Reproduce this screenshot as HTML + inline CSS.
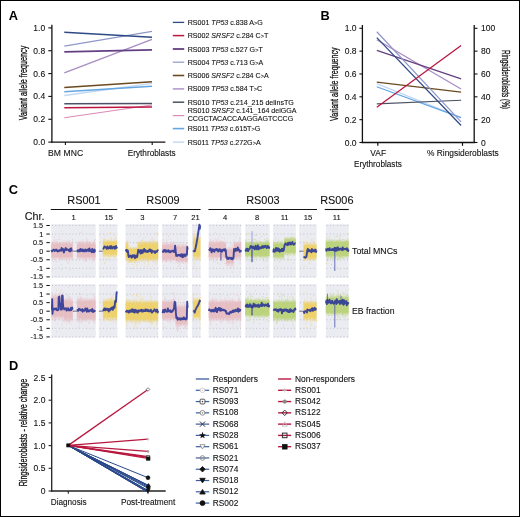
<!DOCTYPE html>
<html><head><meta charset="utf-8"><style>
html,body{margin:0;padding:0;background:#fff;}
svg{display:block;will-change:transform;}
text{font-family:"Liberation Sans",sans-serif;}
</style></head><body>
<svg width="520" height="517" viewBox="0 0 520 517" font-family="Liberation Sans, sans-serif">
<defs><linearGradient id="gpk" x1="0" y1="0" x2="0" y2="1"><stop offset="0" stop-color="#e7b9bd" stop-opacity="0"/><stop offset="0.09" stop-color="#e7b9bd" stop-opacity="0.3"/><stop offset="0.185" stop-color="#e7b9bd" stop-opacity="0.8"/><stop offset="0.815" stop-color="#e7b9bd" stop-opacity="0.8"/><stop offset="0.91" stop-color="#e7b9bd" stop-opacity="0.3"/><stop offset="1" stop-color="#e7b9bd" stop-opacity="0"/></linearGradient><linearGradient id="gyl" x1="0" y1="0" x2="0" y2="1"><stop offset="0" stop-color="#efcf5a" stop-opacity="0"/><stop offset="0.09" stop-color="#efcf5a" stop-opacity="0.3"/><stop offset="0.185" stop-color="#efcf5a" stop-opacity="0.8"/><stop offset="0.815" stop-color="#efcf5a" stop-opacity="0.8"/><stop offset="0.91" stop-color="#efcf5a" stop-opacity="0.3"/><stop offset="1" stop-color="#efcf5a" stop-opacity="0"/></linearGradient><linearGradient id="ggr" x1="0" y1="0" x2="0" y2="1"><stop offset="0" stop-color="#b7d06c" stop-opacity="0"/><stop offset="0.09" stop-color="#b7d06c" stop-opacity="0.3"/><stop offset="0.185" stop-color="#b7d06c" stop-opacity="0.8"/><stop offset="0.815" stop-color="#b7d06c" stop-opacity="0.8"/><stop offset="0.91" stop-color="#b7d06c" stop-opacity="0.3"/><stop offset="1" stop-color="#b7d06c" stop-opacity="0"/></linearGradient></defs>
<rect x="0" y="0" width="520" height="517" fill="#fff"/>
<text x="8.8" y="19.9" font-size="12.8" font-weight="bold" fill="#000">A</text>
<line x1="51.90" y1="24.80" x2="51.90" y2="142.70" stroke="#111" stroke-width="1.3"/>
<line x1="51.30" y1="142.10" x2="165.40" y2="142.10" stroke="#111" stroke-width="1.3"/>
<line x1="48.30" y1="142.10" x2="51.90" y2="142.10" stroke="#111" stroke-width="1.1"/>
<text x="45.2" y="145.1" font-size="8.5" text-anchor="end" fill="#111" stroke="#111" stroke-width="0.1">0.0</text>
<line x1="48.30" y1="119.26" x2="51.90" y2="119.26" stroke="#111" stroke-width="1.1"/>
<text x="45.2" y="122.25999999999999" font-size="8.5" text-anchor="end" fill="#111" stroke="#111" stroke-width="0.1">0.2</text>
<line x1="48.30" y1="96.42" x2="51.90" y2="96.42" stroke="#111" stroke-width="1.1"/>
<text x="45.2" y="99.41999999999999" font-size="8.5" text-anchor="end" fill="#111" stroke="#111" stroke-width="0.1">0.4</text>
<line x1="48.30" y1="73.58" x2="51.90" y2="73.58" stroke="#111" stroke-width="1.1"/>
<text x="45.2" y="76.57999999999998" font-size="8.5" text-anchor="end" fill="#111" stroke="#111" stroke-width="0.1">0.6</text>
<line x1="48.30" y1="50.74" x2="51.90" y2="50.74" stroke="#111" stroke-width="1.1"/>
<text x="45.2" y="53.739999999999995" font-size="8.5" text-anchor="end" fill="#111" stroke="#111" stroke-width="0.1">0.8</text>
<line x1="48.30" y1="27.90" x2="51.90" y2="27.90" stroke="#111" stroke-width="1.1"/>
<text x="45.2" y="30.900000000000006" font-size="8.5" text-anchor="end" fill="#111" stroke="#111" stroke-width="0.1">1.0</text>
<line x1="65.40" y1="142.10" x2="65.40" y2="144.90" stroke="#111" stroke-width="1.1"/>
<line x1="152.20" y1="142.10" x2="152.20" y2="144.90" stroke="#111" stroke-width="1.1"/>
<text x="65.6" y="155.9" font-size="8.6" text-anchor="middle" fill="#111" stroke="#111" stroke-width="0.1" textLength="35.2">BM MNC</text>
<text x="151.7" y="155.9" font-size="8.2" text-anchor="middle" fill="#111" stroke="#111" stroke-width="0.1">Erythroblasts</text>
<text transform="translate(27.2,83) rotate(-90)" font-size="10.4" text-anchor="middle" textLength="74.6" lengthAdjust="spacingAndGlyphs" fill="#111" stroke="#111" stroke-width="0.3">Variant allele frequency</text>
<line x1="64.30" y1="95.51" x2="152.00" y2="83.29" stroke="#c2d8f2" stroke-width="1.3"/>
<line x1="64.30" y1="117.78" x2="152.00" y2="104.98" stroke="#dc8ab5" stroke-width="1.2"/>
<line x1="64.30" y1="46.17" x2="152.00" y2="31.33" stroke="#9097c9" stroke-width="1.2"/>
<line x1="64.30" y1="72.78" x2="152.00" y2="39.32" stroke="#a88cc3" stroke-width="1.3"/>
<line x1="64.30" y1="91.74" x2="152.00" y2="86.37" stroke="#64a6e2" stroke-width="1.5"/>
<line x1="64.30" y1="87.40" x2="152.00" y2="81.80" stroke="#6b4a1f" stroke-width="1.5"/>
<line x1="64.30" y1="103.73" x2="152.00" y2="103.39" stroke="#4b5264" stroke-width="1.5"/>
<line x1="64.30" y1="107.84" x2="152.00" y2="106.93" stroke="#bb1540" stroke-width="1.5"/>
<line x1="64.30" y1="51.88" x2="152.00" y2="49.94" stroke="#643f82" stroke-width="1.7"/>
<line x1="64.30" y1="32.24" x2="152.00" y2="37.26" stroke="#2e4a85" stroke-width="1.3"/>
<line x1="172.80" y1="22.40" x2="184.20" y2="22.40" stroke="#2e4a85" stroke-width="1.3"/>
<text x="187.7" y="24.90" font-size="7.1" fill="#111" stroke="#111" stroke-width="0.1" xml:space="preserve"><tspan>RS001 </tspan><tspan font-style="italic">TP53</tspan><tspan> c.838 A<tspan font-size="5.6">&gt;</tspan>G</tspan></text>
<line x1="172.80" y1="35.60" x2="184.20" y2="35.60" stroke="#bb1540" stroke-width="1.5"/>
<text x="187.7" y="38.10" font-size="7.1" fill="#111" stroke="#111" stroke-width="0.1" xml:space="preserve"><tspan>RS002 </tspan><tspan font-style="italic">SRSF2</tspan><tspan> c.284 C<tspan font-size="5.6">&gt;</tspan>T</tspan></text>
<line x1="172.80" y1="49.00" x2="184.20" y2="49.00" stroke="#643f82" stroke-width="1.8"/>
<text x="187.7" y="51.50" font-size="7.1" fill="#111" stroke="#111" stroke-width="0.1" xml:space="preserve"><tspan>RS003 </tspan><tspan font-style="italic">TP53</tspan><tspan> c.527 G<tspan font-size="5.6">&gt;</tspan>T</tspan></text>
<line x1="172.80" y1="62.20" x2="184.20" y2="62.20" stroke="#9097c9" stroke-width="1.2"/>
<text x="187.7" y="64.70" font-size="7.1" fill="#111" stroke="#111" stroke-width="0.1" xml:space="preserve"><tspan>RS004 </tspan><tspan font-style="italic">TP53</tspan><tspan> c.713 G<tspan font-size="5.6">&gt;</tspan>A</tspan></text>
<line x1="172.80" y1="75.50" x2="184.20" y2="75.50" stroke="#6b4a1f" stroke-width="1.6"/>
<text x="187.7" y="78.00" font-size="7.1" fill="#111" stroke="#111" stroke-width="0.1" xml:space="preserve"><tspan>RS006 </tspan><tspan font-style="italic">SRSF2</tspan><tspan> c.284 C<tspan font-size="5.6">&gt;</tspan>A</tspan></text>
<line x1="172.80" y1="88.90" x2="184.20" y2="88.90" stroke="#b49bcb" stroke-width="1.6"/>
<text x="187.7" y="91.40" font-size="7.1" fill="#111" stroke="#111" stroke-width="0.1" xml:space="preserve"><tspan>RS009 </tspan><tspan font-style="italic">TP53</tspan><tspan> c.584 T<tspan font-size="5.6">&gt;</tspan>C</tspan></text>
<line x1="172.80" y1="102.20" x2="184.20" y2="102.20" stroke="#4b5264" stroke-width="1.5"/>
<text x="187.7" y="104.70" font-size="7.1" fill="#111" stroke="#111" stroke-width="0.1" xml:space="preserve"><tspan>RS010 </tspan><tspan font-style="italic">TP53</tspan><tspan> c.214_215 delinsTG</tspan></text>
<line x1="172.80" y1="115.60" x2="184.20" y2="115.60" stroke="#dc8ab5" stroke-width="1.2"/>
<line x1="172.80" y1="128.60" x2="184.20" y2="128.60" stroke="#64a6e2" stroke-width="1.6"/>
<text x="187.7" y="131.10" font-size="7.1" fill="#111" stroke="#111" stroke-width="0.1" xml:space="preserve"><tspan>RS011 </tspan><tspan font-style="italic">TP53</tspan><tspan> c.615T<tspan font-size="5.6">&gt;</tspan>G</tspan></text>
<line x1="172.80" y1="142.10" x2="184.20" y2="142.10" stroke="#c2d8f2" stroke-width="1.4"/>
<text x="187.7" y="144.60" font-size="7.1" fill="#111" stroke="#111" stroke-width="0.1" xml:space="preserve"><tspan>RS011 </tspan><tspan font-style="italic">TP53</tspan><tspan> c.272G<tspan font-size="5.6">&gt;</tspan>A</tspan></text>
<text x="187.7" y="113.0" font-size="7.1" fill="#111" stroke="#111" stroke-width="0.1" xml:space="preserve"><tspan>RS010 </tspan><tspan font-style="italic">SRSF2</tspan><tspan> c.141_164 delGGA</tspan></text>
<text x="187.7" y="121.3" font-size="7.1" fill="#111" stroke="#111" stroke-width="0.1">CCGCTACACCAAGGAGTCCCG</text>
<text x="320.4" y="19.9" font-size="12.8" font-weight="bold" fill="#000">B</text>
<line x1="362.40" y1="25.00" x2="362.40" y2="143.10" stroke="#111" stroke-width="1.3"/>
<line x1="474.20" y1="25.00" x2="474.20" y2="143.10" stroke="#111" stroke-width="1.3"/>
<line x1="361.80" y1="142.50" x2="474.80" y2="142.50" stroke="#111" stroke-width="1.3"/>
<line x1="359.40" y1="142.50" x2="362.40" y2="142.50" stroke="#111" stroke-width="1.1"/>
<text x="356.6" y="145.5" font-size="8.5" text-anchor="end" fill="#111" stroke="#111" stroke-width="0.1">0.0</text>
<line x1="474.20" y1="142.50" x2="477.50" y2="142.50" stroke="#111" stroke-width="1.1"/>
<text x="481.0" y="145.5" font-size="8.5" fill="#111" stroke="#111" stroke-width="0.1">0</text>
<line x1="359.40" y1="119.66" x2="362.40" y2="119.66" stroke="#111" stroke-width="1.1"/>
<text x="356.6" y="122.66" font-size="8.5" text-anchor="end" fill="#111" stroke="#111" stroke-width="0.1">0.2</text>
<line x1="474.20" y1="119.66" x2="477.50" y2="119.66" stroke="#111" stroke-width="1.1"/>
<text x="481.0" y="122.66" font-size="8.5" fill="#111" stroke="#111" stroke-width="0.1">20</text>
<line x1="359.40" y1="96.82" x2="362.40" y2="96.82" stroke="#111" stroke-width="1.1"/>
<text x="356.6" y="99.82" font-size="8.5" text-anchor="end" fill="#111" stroke="#111" stroke-width="0.1">0.4</text>
<line x1="474.20" y1="96.82" x2="477.50" y2="96.82" stroke="#111" stroke-width="1.1"/>
<text x="481.0" y="99.82" font-size="8.5" fill="#111" stroke="#111" stroke-width="0.1">40</text>
<line x1="359.40" y1="73.98" x2="362.40" y2="73.98" stroke="#111" stroke-width="1.1"/>
<text x="356.6" y="76.97999999999999" font-size="8.5" text-anchor="end" fill="#111" stroke="#111" stroke-width="0.1">0.6</text>
<line x1="474.20" y1="73.98" x2="477.50" y2="73.98" stroke="#111" stroke-width="1.1"/>
<text x="481.0" y="76.97999999999999" font-size="8.5" fill="#111" stroke="#111" stroke-width="0.1">60</text>
<line x1="359.40" y1="51.14" x2="362.40" y2="51.14" stroke="#111" stroke-width="1.1"/>
<text x="356.6" y="54.139999999999986" font-size="8.5" text-anchor="end" fill="#111" stroke="#111" stroke-width="0.1">0.8</text>
<line x1="474.20" y1="51.14" x2="477.50" y2="51.14" stroke="#111" stroke-width="1.1"/>
<text x="481.0" y="54.139999999999986" font-size="8.5" fill="#111" stroke="#111" stroke-width="0.1">80</text>
<line x1="359.40" y1="28.30" x2="362.40" y2="28.30" stroke="#111" stroke-width="1.1"/>
<text x="356.6" y="31.299999999999997" font-size="8.5" text-anchor="end" fill="#111" stroke="#111" stroke-width="0.1">1.0</text>
<line x1="474.20" y1="28.30" x2="477.50" y2="28.30" stroke="#111" stroke-width="1.1"/>
<text x="481.0" y="31.299999999999997" font-size="8.5" fill="#111" stroke="#111" stroke-width="0.1">100</text>
<line x1="377.80" y1="142.50" x2="377.80" y2="145.80" stroke="#111" stroke-width="1.2"/>
<line x1="462.50" y1="142.50" x2="462.50" y2="145.80" stroke="#111" stroke-width="1.2"/>
<text x="378.2" y="156.0" font-size="8.4" text-anchor="middle" fill="#111" stroke="#111" stroke-width="0.1">VAF</text>
<text x="377.9" y="167.0" font-size="8.2" text-anchor="middle" fill="#111" stroke="#111" stroke-width="0.1">Erythroblasts</text>
<text x="462.8" y="156.0" font-size="8.4" text-anchor="middle" fill="#111" stroke="#111" stroke-width="0.1">% Ringsideroblasts</text>
<text transform="translate(337.9,84.2) rotate(-90)" font-size="10.4" text-anchor="middle" textLength="73.4" lengthAdjust="spacingAndGlyphs" fill="#111" stroke="#111" stroke-width="0.3">Variant allele frequency</text>
<text transform="translate(502.0,79.5) rotate(90)" font-size="10.3" text-anchor="middle" textLength="58.9" lengthAdjust="spacingAndGlyphs" fill="#111" stroke="#111" stroke-width="0.3">Ringsideroblasts (%)</text>
<line x1="376.80" y1="83.69" x2="461.10" y2="117.60" stroke="#c2d8f2" stroke-width="1.25"/>
<line x1="376.80" y1="86.77" x2="461.10" y2="117.60" stroke="#64a6e2" stroke-width="1.25"/>
<line x1="376.80" y1="82.20" x2="461.10" y2="92.14" stroke="#6b4a1f" stroke-width="1.25"/>
<line x1="376.80" y1="103.79" x2="461.10" y2="100.25" stroke="#4b5264" stroke-width="1.25"/>
<line x1="376.80" y1="39.72" x2="461.10" y2="89.05" stroke="#a88cc3" stroke-width="1.25"/>
<line x1="376.80" y1="50.34" x2="461.10" y2="78.89" stroke="#643f82" stroke-width="1.25"/>
<line x1="376.80" y1="31.73" x2="461.10" y2="121.94" stroke="#9097c9" stroke-width="1.2"/>
<line x1="376.80" y1="37.66" x2="461.10" y2="125.48" stroke="#2e4a85" stroke-width="1.25"/>
<line x1="376.80" y1="107.33" x2="461.10" y2="45.43" stroke="#bb1540" stroke-width="1.25"/>
<text x="8.8" y="194.3" font-size="12.8" font-weight="bold" fill="#000">C</text>
<text x="44.5" y="219.6" font-size="10.8" text-anchor="end" fill="#111" stroke="#111" stroke-width="0.1">Chr.</text>
<text x="84.0" y="203.8" font-size="10.9" text-anchor="middle" fill="#111" stroke="#111" stroke-width="0.1">RS001</text>
<line x1="50.80" y1="209.50" x2="117.30" y2="209.50" stroke="#111" stroke-width="1.1"/>
<text x="163.0" y="203.8" font-size="10.9" text-anchor="middle" fill="#111" stroke="#111" stroke-width="0.1">RS009</text>
<line x1="125.60" y1="209.50" x2="200.60" y2="209.50" stroke="#111" stroke-width="1.1"/>
<text x="262.9" y="203.8" font-size="10.9" text-anchor="middle" fill="#111" stroke="#111" stroke-width="0.1">RS003</text>
<line x1="208.40" y1="209.50" x2="317.00" y2="209.50" stroke="#111" stroke-width="1.1"/>
<text x="336.8" y="203.8" font-size="10.9" text-anchor="middle" fill="#111" stroke="#111" stroke-width="0.1">RS006</text>
<line x1="324.80" y1="209.50" x2="348.80" y2="209.50" stroke="#111" stroke-width="1.1"/>
<line x1="46.40" y1="225.49" x2="49.80" y2="225.49" stroke="#111" stroke-width="1.0"/>
<text x="43.2" y="227.98999999999998" font-size="7.3" text-anchor="end" fill="#111" stroke="#111" stroke-width="0.1">1.5</text>
<line x1="46.40" y1="234.06" x2="49.80" y2="234.06" stroke="#111" stroke-width="1.0"/>
<text x="43.2" y="236.55999999999997" font-size="7.3" text-anchor="end" fill="#111" stroke="#111" stroke-width="0.1">1</text>
<line x1="46.40" y1="242.63" x2="49.80" y2="242.63" stroke="#111" stroke-width="1.0"/>
<text x="43.2" y="245.13" font-size="7.3" text-anchor="end" fill="#111" stroke="#111" stroke-width="0.1">0.5</text>
<line x1="46.40" y1="251.20" x2="49.80" y2="251.20" stroke="#111" stroke-width="1.0"/>
<text x="43.2" y="253.7" font-size="7.3" text-anchor="end" fill="#111" stroke="#111" stroke-width="0.1">0</text>
<line x1="46.40" y1="259.77" x2="49.80" y2="259.77" stroke="#111" stroke-width="1.0"/>
<text x="43.2" y="262.27" font-size="7.3" text-anchor="end" fill="#111" stroke="#111" stroke-width="0.1">-0.5</text>
<line x1="46.40" y1="268.34" x2="49.80" y2="268.34" stroke="#111" stroke-width="1.0"/>
<text x="43.2" y="270.84" font-size="7.3" text-anchor="end" fill="#111" stroke="#111" stroke-width="0.1">-1</text>
<line x1="46.40" y1="276.91" x2="49.80" y2="276.91" stroke="#111" stroke-width="1.0"/>
<text x="43.2" y="279.40999999999997" font-size="7.3" text-anchor="end" fill="#111" stroke="#111" stroke-width="0.1">-1.5</text>
<line x1="46.40" y1="285.49" x2="49.80" y2="285.49" stroke="#111" stroke-width="1.0"/>
<text x="43.2" y="287.99" font-size="7.3" text-anchor="end" fill="#111" stroke="#111" stroke-width="0.1">1.5</text>
<line x1="46.40" y1="294.06" x2="49.80" y2="294.06" stroke="#111" stroke-width="1.0"/>
<text x="43.2" y="296.56" font-size="7.3" text-anchor="end" fill="#111" stroke="#111" stroke-width="0.1">1</text>
<line x1="46.40" y1="302.63" x2="49.80" y2="302.63" stroke="#111" stroke-width="1.0"/>
<text x="43.2" y="305.13" font-size="7.3" text-anchor="end" fill="#111" stroke="#111" stroke-width="0.1">0.5</text>
<line x1="46.40" y1="311.20" x2="49.80" y2="311.20" stroke="#111" stroke-width="1.0"/>
<text x="43.2" y="313.7" font-size="7.3" text-anchor="end" fill="#111" stroke="#111" stroke-width="0.1">0</text>
<line x1="46.40" y1="319.77" x2="49.80" y2="319.77" stroke="#111" stroke-width="1.0"/>
<text x="43.2" y="322.27" font-size="7.3" text-anchor="end" fill="#111" stroke="#111" stroke-width="0.1">-0.5</text>
<line x1="46.40" y1="328.34" x2="49.80" y2="328.34" stroke="#111" stroke-width="1.0"/>
<text x="43.2" y="330.84000000000003" font-size="7.3" text-anchor="end" fill="#111" stroke="#111" stroke-width="0.1">-1</text>
<line x1="46.40" y1="336.91" x2="49.80" y2="336.91" stroke="#111" stroke-width="1.0"/>
<text x="43.2" y="339.41" font-size="7.3" text-anchor="end" fill="#111" stroke="#111" stroke-width="0.1">-1.5</text>
<text x="352" y="253.6" font-size="8.8" fill="#111" stroke="#111" stroke-width="0.1">Total MNCs</text>
<text x="352" y="314.0" font-size="8.7" fill="#111" stroke="#111" stroke-width="0.1">EB fraction</text>
<text x="73.5" y="219.5" font-size="7.6" text-anchor="middle" fill="#111" stroke="#111" stroke-width="0.1">1</text>
<rect x="51.20" y="224.19" width="44.60" height="53.42" fill="#ebebf2"/>
<line x1="52.00" y1="225.49" x2="95.80" y2="225.49" stroke="#aeaeb8" stroke-width="0.75" stroke-dasharray="0.9 2.5"/>
<line x1="52.00" y1="234.06" x2="95.80" y2="234.06" stroke="#aeaeb8" stroke-width="0.75" stroke-dasharray="0.9 2.5"/>
<line x1="52.00" y1="242.63" x2="95.80" y2="242.63" stroke="#aeaeb8" stroke-width="0.75" stroke-dasharray="0.9 2.5"/>
<line x1="52.00" y1="251.20" x2="95.80" y2="251.20" stroke="#aeaeb8" stroke-width="0.75" stroke-dasharray="0.9 2.5"/>
<line x1="52.00" y1="259.77" x2="95.80" y2="259.77" stroke="#aeaeb8" stroke-width="0.75" stroke-dasharray="0.9 2.5"/>
<line x1="52.00" y1="268.34" x2="95.80" y2="268.34" stroke="#aeaeb8" stroke-width="0.75" stroke-dasharray="0.9 2.5"/>
<line x1="52.00" y1="276.91" x2="95.80" y2="276.91" stroke="#aeaeb8" stroke-width="0.75" stroke-dasharray="0.9 2.5"/>
<rect x="51.20" y="240.80" width="21.70" height="19.44" fill="url(#gpk)"/>
<path d="M51.5 244.3V257.6M52.3 241.5V257.7M52.9 241.5V257.3M53.4 244.0V256.4M54.0 239.7V258.7M54.5 244.4V260.4M55.4 242.2V257.4M56.3 239.0V257.8M56.9 244.1V257.2M57.5 244.3V257.8M58.2 243.1V258.3M59.0 244.1V256.4M59.6 243.7V259.0M60.2 242.1V257.7M60.8 243.7V260.7M61.4 241.6V257.7M62.2 244.8V258.6M63.1 242.6V258.2M63.9 242.9V259.0M64.5 242.4V260.7M65.2 243.1V257.9M66.0 241.6V258.3M66.6 240.9V262.5M67.3 244.5V256.9M68.1 239.0V264.1M68.9 244.4V259.0M69.7 241.5V256.4M70.3 244.3V256.7M71.1 243.4V257.7M71.7 244.2V256.9M72.4 238.7V258.0" stroke="#e7b9bd" stroke-width="0.55" stroke-opacity="0.45" fill="none"/>
<path d="M59.0 243.2h.7v.7h-.7zM64.0 242.3h.7v.7h-.7zM56.9 243.0h.7v.7h-.7zM63.5 240.0h.7v.7h-.7zM68.1 241.4h.7v.7h-.7zM59.7 259.6h.7v.7h-.7zM59.9 242.4h.7v.7h-.7zM59.1 236.0h.7v.7h-.7zM53.9 237.3h.7v.7h-.7zM61.3 269.0h.7v.7h-.7zM51.8 270.2h.7v.7h-.7zM68.0 262.8h.7v.7h-.7zM56.0 242.7h.7v.7h-.7zM69.7 269.8h.7v.7h-.7zM56.1 261.3h.7v.7h-.7zM72.0 239.5h.7v.7h-.7zM60.9 230.8h.7v.7h-.7zM71.9 258.8h.7v.7h-.7zM55.6 261.5h.7v.7h-.7zM69.4 261.4h.7v.7h-.7zM61.6 257.9h.7v.7h-.7zM53.0 261.1h.7v.7h-.7zM65.5 239.9h.7v.7h-.7zM58.4 239.1h.7v.7h-.7zM54.5 239.7h.7v.7h-.7zM54.4 257.9h.7v.7h-.7zM69.1 240.1h.7v.7h-.7zM65.3 267.0h.7v.7h-.7zM56.8 241.0h.7v.7h-.7zM60.3 239.8h.7v.7h-.7zM58.9 238.9h.7v.7h-.7zM61.1 264.0h.7v.7h-.7zM60.3 258.3h.7v.7h-.7zM71.1 259.4h.7v.7h-.7zM66.9 243.3h.7v.7h-.7zM63.3 242.8h.7v.7h-.7z" fill="#e7b9bd" opacity="0.9"/>
<rect x="76.90" y="240.80" width="18.70" height="19.44" fill="url(#gpk)"/>
<path d="M77.2 244.8V257.4M77.9 245.1V258.5M78.7 241.0V256.1M79.5 242.1V257.7M80.3 241.2V256.0M81.1 241.3V257.1M81.8 240.4V257.7M82.6 242.8V256.8M83.3 239.3V258.1M83.9 242.6V258.3M84.4 245.0V257.2M85.2 243.7V262.7M85.7 244.1V260.6M86.3 238.8V261.6M86.9 242.0V256.9M87.6 239.0V256.3M88.1 241.6V257.5M88.8 244.2V258.6M89.6 241.0V256.4M90.2 242.2V256.2M91.0 243.9V256.0M91.9 243.1V264.3M92.4 245.0V256.8M93.2 244.9V257.6M93.9 240.0V259.1M94.5 240.8V261.8M95.2 244.7V257.2" stroke="#e7b9bd" stroke-width="0.55" stroke-opacity="0.45" fill="none"/>
<path d="M80.2 242.3h.7v.7h-.7zM94.4 240.1h.7v.7h-.7zM85.0 242.3h.7v.7h-.7zM81.8 231.8h.7v.7h-.7zM86.8 241.0h.7v.7h-.7zM93.3 260.1h.7v.7h-.7zM84.2 260.1h.7v.7h-.7zM79.7 232.0h.7v.7h-.7zM93.6 258.7h.7v.7h-.7zM92.1 258.9h.7v.7h-.7zM79.5 258.9h.7v.7h-.7zM93.6 259.0h.7v.7h-.7zM89.6 257.8h.7v.7h-.7zM86.0 237.6h.7v.7h-.7zM86.3 260.8h.7v.7h-.7zM95.1 239.2h.7v.7h-.7z" fill="#e7b9bd" opacity="0.9"/>
<line x1="72.90" y1="251.20" x2="76.90" y2="251.20" stroke="#6a6a78" stroke-width="0.9"/>
<path d="M51.50 250.03 L51.96 251.47 L52.42 250.42 L52.88 250.48 L53.33 249.75 L53.79 249.61 L54.25 250.23 L54.71 251.00 L55.17 250.34 L55.63 250.27 L56.09 249.52 L56.55 249.94 L57.00 250.90 L57.46 251.50 L57.92 250.58 L58.38 250.93 L58.84 251.28 L59.30 250.34 L59.76 250.70 L60.22 250.14 L60.67 249.75 L61.13 250.64 L61.59 248.06 L62.05 250.56 L62.51 249.22 L62.97 250.15 L63.43 249.22 L63.88 252.51 L64.34 250.98 L64.80 250.05 L65.26 249.72 L65.72 248.08 L66.18 249.99 L66.64 249.09 L67.10 249.58 L67.55 249.41 L68.01 249.82 L68.47 250.46 L68.93 249.83 L69.39 251.33 L69.85 249.21 L70.31 251.28 L70.77 250.09 L71.22 248.33 L71.68 250.55 L72.14 250.32 L72.60 250.34 M77.20 249.59 L77.66 250.66 L78.11 251.45 L78.56 250.44 L79.02 250.14 L79.48 250.02 L79.93 251.41 L80.39 249.03 L80.84 249.11 L81.30 250.67 L81.75 250.43 L82.20 251.09 L82.66 249.35 L83.12 251.35 L83.57 250.05 L84.03 251.14 L84.48 251.34 L84.94 250.01 L85.39 249.43 L85.84 250.70 L86.30 251.32 L86.76 249.92 L87.21 250.73 L87.67 250.39 L88.12 249.25 L88.58 249.62 L89.03 251.18 L89.48 248.53 L89.94 250.68 L90.40 249.94 L90.85 251.30 L91.31 250.73 L91.76 252.34 L92.22 249.00 L92.67 249.40 L93.12 251.83 L93.58 252.10 L94.04 252.21 L94.49 249.58 L94.95 251.12 L95.40 250.69" fill="none" stroke="#2c3796" stroke-width="1.9" stroke-linejoin="round" opacity="0.9"/>
<rect x="51.20" y="284.19" width="44.60" height="53.42" fill="#ebebf2"/>
<line x1="52.00" y1="285.49" x2="95.80" y2="285.49" stroke="#aeaeb8" stroke-width="0.75" stroke-dasharray="0.9 2.5"/>
<line x1="52.00" y1="294.06" x2="95.80" y2="294.06" stroke="#aeaeb8" stroke-width="0.75" stroke-dasharray="0.9 2.5"/>
<line x1="52.00" y1="302.63" x2="95.80" y2="302.63" stroke="#aeaeb8" stroke-width="0.75" stroke-dasharray="0.9 2.5"/>
<line x1="52.00" y1="311.20" x2="95.80" y2="311.20" stroke="#aeaeb8" stroke-width="0.75" stroke-dasharray="0.9 2.5"/>
<line x1="52.00" y1="319.77" x2="95.80" y2="319.77" stroke="#aeaeb8" stroke-width="0.75" stroke-dasharray="0.9 2.5"/>
<line x1="52.00" y1="328.34" x2="95.80" y2="328.34" stroke="#aeaeb8" stroke-width="0.75" stroke-dasharray="0.9 2.5"/>
<line x1="52.00" y1="336.91" x2="95.80" y2="336.91" stroke="#aeaeb8" stroke-width="0.75" stroke-dasharray="0.9 2.5"/>
<rect x="51.20" y="293.03" width="12.80" height="27.77" fill="url(#gpk)"/>
<path d="M51.5 298.9V316.1M52.3 291.8V317.0M53.1 298.9V316.1M53.9 295.6V318.4M54.6 297.0V321.9M55.4 298.8V321.4M56.1 294.9V316.3M56.6 297.5V317.3M57.5 295.9V314.7M58.4 294.1V314.7M58.9 298.5V316.5M59.6 296.3V316.5M60.2 290.4V318.7M61.0 295.1V317.1M61.7 296.2V317.6M62.2 297.1V326.6M62.7 292.7V314.8M63.6 298.4V318.2" stroke="#e7b9bd" stroke-width="0.55" stroke-opacity="0.45" fill="none"/>
<path d="M56.3 331.0h.7v.7h-.7zM62.7 320.4h.7v.7h-.7zM56.2 289.7h.7v.7h-.7zM60.4 329.2h.7v.7h-.7zM58.3 318.2h.7v.7h-.7zM63.5 320.0h.7v.7h-.7zM57.3 323.7h.7v.7h-.7zM55.1 294.9h.7v.7h-.7zM63.0 291.7h.7v.7h-.7zM60.7 289.5h.7v.7h-.7zM55.0 295.4h.7v.7h-.7zM54.1 320.1h.7v.7h-.7zM62.7 294.5h.7v.7h-.7zM64.0 318.1h.7v.7h-.7z" fill="#e7b9bd" opacity="0.9"/>
<rect x="64.00" y="297.10" width="8.90" height="25.45" fill="url(#gpk)"/>
<path d="M64.3 300.4V323.4M64.8 300.0V319.0M65.5 299.2V318.2M66.0 300.5V317.6M66.8 298.9V324.7M67.4 295.1V321.8M68.3 296.6V318.1M68.9 302.2V323.5M69.5 295.9V322.8M70.0 295.9V323.5M70.8 298.6V318.0M71.4 302.5V319.8M72.2 301.2V320.0" stroke="#e7b9bd" stroke-width="0.55" stroke-opacity="0.45" fill="none"/>
<path d="M66.8 294.9h.7v.7h-.7zM66.5 294.0h.7v.7h-.7zM68.2 287.3h.7v.7h-.7zM66.2 319.8h.7v.7h-.7zM71.3 324.4h.7v.7h-.7zM68.9 321.9h.7v.7h-.7zM71.9 286.4h.7v.7h-.7zM66.1 319.8h.7v.7h-.7zM67.7 320.1h.7v.7h-.7zM70.7 319.5h.7v.7h-.7z" fill="#e7b9bd" opacity="0.9"/>
<rect x="76.90" y="297.10" width="18.70" height="25.45" fill="url(#gpk)"/>
<path d="M77.2 297.7V317.1M77.8 300.5V322.7M78.7 298.9V319.8M79.5 297.7V324.8M80.0 302.2V319.0M80.6 297.2V317.8M81.5 296.8V323.0M82.2 302.3V324.2M83.0 298.3V320.4M83.8 301.9V320.9M84.3 301.8V320.0M85.1 301.1V319.2M85.6 299.8V322.6M86.2 301.7V319.5M87.0 301.3V317.4M87.5 298.5V320.2M88.3 300.6V318.3M89.1 299.8V318.8M89.7 299.2V318.0M90.4 300.0V320.3M91.2 298.7V317.0M91.8 302.4V319.7M92.3 299.1V319.5M93.2 295.5V321.8M93.8 302.4V317.5M94.6 296.9V324.1M95.1 299.8V319.7" stroke="#e7b9bd" stroke-width="0.55" stroke-opacity="0.45" fill="none"/>
<path d="M94.2 298.6h.7v.7h-.7zM78.9 326.8h.7v.7h-.7zM80.6 294.0h.7v.7h-.7zM95.1 293.7h.7v.7h-.7zM85.9 289.5h.7v.7h-.7zM93.8 322.6h.7v.7h-.7zM79.9 321.9h.7v.7h-.7zM92.7 300.4h.7v.7h-.7zM91.1 292.4h.7v.7h-.7zM88.1 322.4h.7v.7h-.7zM91.5 293.9h.7v.7h-.7zM78.9 300.2h.7v.7h-.7zM86.4 296.9h.7v.7h-.7zM77.9 320.9h.7v.7h-.7zM86.3 326.5h.7v.7h-.7zM79.4 293.8h.7v.7h-.7zM92.9 294.5h.7v.7h-.7zM80.5 298.9h.7v.7h-.7zM94.3 295.5h.7v.7h-.7zM79.9 297.1h.7v.7h-.7zM79.6 292.7h.7v.7h-.7zM79.9 296.7h.7v.7h-.7zM88.8 322.0h.7v.7h-.7zM87.3 295.1h.7v.7h-.7zM88.7 323.1h.7v.7h-.7zM81.9 299.4h.7v.7h-.7zM77.8 295.9h.7v.7h-.7zM95.3 296.4h.7v.7h-.7zM85.0 299.3h.7v.7h-.7z" fill="#e7b9bd" opacity="0.9"/>
<line x1="72.90" y1="311.20" x2="76.90" y2="311.20" stroke="#6a6a78" stroke-width="0.9"/>
<path d="M51.30 309.49 L51.90 309.49 L52.20 299.20 L52.50 313.77 L52.90 309.60 L53.36 309.65 L53.82 308.60 L54.27 309.47 L54.73 308.79 L55.19 308.94 L55.65 309.29 L56.11 308.25 L56.57 310.03 L57.02 309.82 L57.48 310.25 L57.94 310.24 L58.40 309.49 L58.70 297.15 L59.30 296.63 L59.80 303.49 L60.30 303.49 L60.60 309.49 L61.20 309.49 L61.80 309.49 L62.10 295.43 L62.60 295.77 L62.90 302.63 L63.30 308.02 L63.77 307.83 L64.23 309.46 L64.69 308.95 L65.16 308.38 L65.62 308.72 L66.09 308.35 L66.55 310.68 L67.02 310.09 L67.48 309.06 L67.95 308.13 L68.41 309.39 L68.88 310.30 L69.34 309.82 L69.81 310.11 L70.27 310.30 L70.74 308.07 L71.20 310.08 L71.67 309.47 L72.13 307.45 L72.60 309.49 M77.20 309.23 L77.66 310.03 L78.11 310.92 L78.56 309.96 L79.02 308.81 L79.48 309.76 L79.93 309.15 L80.39 310.25 L80.84 309.86 L81.30 310.53 L81.75 309.94 L82.20 309.12 L82.66 311.69 L83.12 310.40 L83.57 310.12 L84.03 310.88 L84.48 310.63 L84.94 309.60 L85.39 308.46 L85.84 309.75 L86.30 310.04 L86.76 311.81 L87.21 308.53 L87.67 310.27 L88.12 310.37 L88.58 311.40 L89.03 310.40 L89.48 311.38 L89.94 310.28 L90.40 309.90 L90.85 310.31 L91.31 310.08 L91.76 311.15 L92.22 309.00 L92.67 310.96 L93.12 312.06 L93.58 310.52 L94.04 311.06 L94.49 311.29 L94.95 310.68 L95.40 310.34" fill="none" stroke="#2c3796" stroke-width="1.9" stroke-linejoin="round" opacity="0.9"/>
<text x="108.8" y="219.5" font-size="7.6" text-anchor="middle" fill="#111" stroke="#111" stroke-width="0.1">15</text>
<rect x="98.90" y="224.19" width="18.40" height="53.42" fill="#ebebf2"/>
<line x1="99.70" y1="225.49" x2="117.30" y2="225.49" stroke="#aeaeb8" stroke-width="0.75" stroke-dasharray="0.9 2.5"/>
<line x1="99.70" y1="234.06" x2="117.30" y2="234.06" stroke="#aeaeb8" stroke-width="0.75" stroke-dasharray="0.9 2.5"/>
<line x1="99.70" y1="242.63" x2="117.30" y2="242.63" stroke="#aeaeb8" stroke-width="0.75" stroke-dasharray="0.9 2.5"/>
<line x1="99.70" y1="251.20" x2="117.30" y2="251.20" stroke="#aeaeb8" stroke-width="0.75" stroke-dasharray="0.9 2.5"/>
<line x1="99.70" y1="259.77" x2="117.30" y2="259.77" stroke="#aeaeb8" stroke-width="0.75" stroke-dasharray="0.9 2.5"/>
<line x1="99.70" y1="268.34" x2="117.30" y2="268.34" stroke="#aeaeb8" stroke-width="0.75" stroke-dasharray="0.9 2.5"/>
<line x1="99.70" y1="276.91" x2="117.30" y2="276.91" stroke="#aeaeb8" stroke-width="0.75" stroke-dasharray="0.9 2.5"/>
<rect x="102.90" y="238.86" width="14.20" height="18.51" fill="url(#gyl)"/>
<path d="M103.2 242.1V256.9M103.8 238.0V259.5M104.4 242.6V253.6M105.0 242.5V258.3M105.9 242.9V256.0M106.7 241.9V255.3M107.6 239.7V256.7M108.4 239.5V253.7M109.2 241.0V259.0M109.9 242.3V257.2M110.5 242.0V257.4M111.0 241.5V254.2M111.5 237.4V257.7M112.2 242.5V253.8M112.7 241.4V257.3M113.5 242.9V254.4M114.2 239.3V257.6M115.0 242.1V254.0M115.9 236.6V257.1M116.4 242.6V254.7" stroke="#efcf5a" stroke-width="0.55" stroke-opacity="0.45" fill="none"/>
<path d="M114.6 257.1h.7v.7h-.7zM108.1 255.7h.7v.7h-.7zM110.1 232.2h.7v.7h-.7zM104.2 234.8h.7v.7h-.7zM110.0 237.7h.7v.7h-.7zM107.9 257.5h.7v.7h-.7zM108.6 259.5h.7v.7h-.7zM104.1 239.2h.7v.7h-.7zM106.2 256.3h.7v.7h-.7zM113.4 256.5h.7v.7h-.7zM105.3 259.1h.7v.7h-.7zM104.7 262.0h.7v.7h-.7zM114.9 238.0h.7v.7h-.7zM104.3 262.8h.7v.7h-.7zM114.2 235.0h.7v.7h-.7z" fill="#efcf5a" opacity="0.9"/>
<line x1="98.90" y1="251.20" x2="102.90" y2="251.20" stroke="#6a6a78" stroke-width="0.9"/>
<path d="M103.10 247.88 L103.56 248.74 L104.03 247.26 L104.49 246.40 L104.95 247.13 L105.42 247.20 L105.88 247.76 L106.34 247.37 L106.81 248.84 L107.27 246.47 L107.73 247.82 L108.20 248.44 L108.66 248.07 L109.12 248.10 L109.59 246.49 L110.05 246.26 L110.51 248.50 L110.98 246.32 L111.44 246.32 L111.90 247.67 L112.37 248.49 L112.83 247.75 L113.29 247.62 L113.76 246.66 L114.22 247.29 L114.68 248.83 L115.15 246.66 L115.61 248.29 L116.07 245.96 L116.54 247.92 L117.00 246.74" fill="none" stroke="#2c3796" stroke-width="1.9" stroke-linejoin="round" opacity="0.9"/>
<rect x="98.90" y="284.19" width="18.40" height="53.42" fill="#ebebf2"/>
<line x1="99.70" y1="285.49" x2="117.30" y2="285.49" stroke="#aeaeb8" stroke-width="0.75" stroke-dasharray="0.9 2.5"/>
<line x1="99.70" y1="294.06" x2="117.30" y2="294.06" stroke="#aeaeb8" stroke-width="0.75" stroke-dasharray="0.9 2.5"/>
<line x1="99.70" y1="302.63" x2="117.30" y2="302.63" stroke="#aeaeb8" stroke-width="0.75" stroke-dasharray="0.9 2.5"/>
<line x1="99.70" y1="311.20" x2="117.30" y2="311.20" stroke="#aeaeb8" stroke-width="0.75" stroke-dasharray="0.9 2.5"/>
<line x1="99.70" y1="319.77" x2="117.30" y2="319.77" stroke="#aeaeb8" stroke-width="0.75" stroke-dasharray="0.9 2.5"/>
<line x1="99.70" y1="328.34" x2="117.30" y2="328.34" stroke="#aeaeb8" stroke-width="0.75" stroke-dasharray="0.9 2.5"/>
<line x1="99.70" y1="336.91" x2="117.30" y2="336.91" stroke="#aeaeb8" stroke-width="0.75" stroke-dasharray="0.9 2.5"/>
<rect x="102.90" y="297.92" width="14.20" height="23.14" fill="url(#gyl)"/>
<path d="M103.2 300.4V319.2M103.8 301.8V317.2M104.5 301.8V321.9M105.2 303.1V320.0M105.9 300.2V318.7M106.7 300.8V317.0M107.5 302.4V319.7M108.2 302.0V316.1M108.9 299.5V321.6M109.7 301.3V316.1M110.5 297.1V317.5M111.2 298.4V321.5M111.9 295.1V320.9M112.5 301.5V319.4M113.3 295.1V323.7M113.9 300.2V317.0M114.6 299.1V316.2M115.3 301.9V319.3M115.9 302.0V322.2M116.7 300.4V316.4" stroke="#efcf5a" stroke-width="0.55" stroke-opacity="0.45" fill="none"/>
<path d="M107.1 318.3h.7v.7h-.7zM110.7 298.0h.7v.7h-.7zM107.9 298.0h.7v.7h-.7zM108.0 319.0h.7v.7h-.7zM115.6 322.0h.7v.7h-.7zM115.4 318.7h.7v.7h-.7zM109.9 300.5h.7v.7h-.7zM109.9 320.2h.7v.7h-.7zM116.5 298.6h.7v.7h-.7zM103.3 319.5h.7v.7h-.7zM107.6 299.3h.7v.7h-.7zM115.6 296.2h.7v.7h-.7z" fill="#efcf5a" opacity="0.9"/>
<line x1="98.90" y1="311.20" x2="102.90" y2="311.20" stroke="#6a6a78" stroke-width="0.9"/>
<path d="M103.10 311.08 L103.57 309.70 L104.04 309.15 L104.51 308.38 L104.98 310.37 L105.45 308.71 L105.92 308.87 L106.39 309.88 L106.86 308.69 L107.33 309.95 L107.80 309.81 L108.27 309.03 L108.74 311.53 L109.21 309.03 L109.68 309.83 L110.15 310.22 L110.62 309.20 L111.09 308.04 L111.56 309.10 L112.03 307.48 L112.50 309.72 L113.00 309.65 L113.50 306.74 L114.00 307.61 L114.50 307.77 L115.20 300.92 L116.00 301.77 L116.50 293.20 L117.00 291.49" fill="none" stroke="#2c3796" stroke-width="1.9" stroke-linejoin="round" opacity="0.9"/>
<text x="142.3" y="219.5" font-size="7.6" text-anchor="middle" fill="#111" stroke="#111" stroke-width="0.1">3</text>
<rect x="125.60" y="224.19" width="32.70" height="53.42" fill="#ebebf2"/>
<line x1="126.40" y1="225.49" x2="158.30" y2="225.49" stroke="#aeaeb8" stroke-width="0.75" stroke-dasharray="0.9 2.5"/>
<line x1="126.40" y1="234.06" x2="158.30" y2="234.06" stroke="#aeaeb8" stroke-width="0.75" stroke-dasharray="0.9 2.5"/>
<line x1="126.40" y1="242.63" x2="158.30" y2="242.63" stroke="#aeaeb8" stroke-width="0.75" stroke-dasharray="0.9 2.5"/>
<line x1="126.40" y1="251.20" x2="158.30" y2="251.20" stroke="#aeaeb8" stroke-width="0.75" stroke-dasharray="0.9 2.5"/>
<line x1="126.40" y1="259.77" x2="158.30" y2="259.77" stroke="#aeaeb8" stroke-width="0.75" stroke-dasharray="0.9 2.5"/>
<line x1="126.40" y1="268.34" x2="158.30" y2="268.34" stroke="#aeaeb8" stroke-width="0.75" stroke-dasharray="0.9 2.5"/>
<line x1="126.40" y1="276.91" x2="158.30" y2="276.91" stroke="#aeaeb8" stroke-width="0.75" stroke-dasharray="0.9 2.5"/>
<rect x="125.60" y="240.79" width="2.80" height="20.83" fill="url(#gyl)"/>
<path d="M125.9 242.1V259.9M126.4 245.3V257.4M127.0 241.2V259.2M127.8 243.6V264.4" stroke="#efcf5a" stroke-width="0.55" stroke-opacity="0.45" fill="none"/>
<path d="M127.3 259.5h.7v.7h-.7zM127.3 259.7h.7v.7h-.7zM126.9 240.1h.7v.7h-.7zM127.8 241.5h.7v.7h-.7zM126.3 260.9h.7v.7h-.7z" fill="#efcf5a" opacity="0.9"/>
<rect x="128.40" y="246.30" width="9.40" height="16.66" fill="url(#gyl)"/>
<path d="M128.7 248.9V262.9M129.6 248.3V262.6M130.1 248.8V263.0M130.8 246.6V261.9M131.3 248.5V262.1M132.2 247.6V262.4M132.9 249.6V262.5M133.5 247.6V259.5M134.0 249.6V259.8M134.8 248.7V264.0M135.4 247.1V263.7M136.0 249.5V259.4M136.5 248.2V259.9M137.3 245.7V259.4" stroke="#efcf5a" stroke-width="0.55" stroke-opacity="0.45" fill="none"/>
<path d="M131.1 262.4h.7v.7h-.7zM129.0 245.1h.7v.7h-.7zM131.5 268.0h.7v.7h-.7zM136.2 265.1h.7v.7h-.7zM136.8 262.3h.7v.7h-.7zM132.4 264.3h.7v.7h-.7zM136.6 264.4h.7v.7h-.7zM136.0 242.7h.7v.7h-.7z" fill="#efcf5a" opacity="0.9"/>
<rect x="137.80" y="240.32" width="20.40" height="21.75" fill="url(#gyl)"/>
<path d="M138.1 242.8V258.3M138.8 243.4V260.9M139.4 245.0V263.3M140.2 243.7V257.6M141.1 244.8V259.9M141.8 239.1V261.8M142.5 240.4V258.0M143.1 244.3V259.4M143.9 242.1V260.8M144.5 243.1V257.5M145.0 241.6V257.3M145.6 240.9V262.0M146.1 242.4V259.2M146.9 244.2V257.4M147.7 242.4V260.4M148.5 244.7V263.5M149.1 239.3V259.3M150.0 242.5V257.9M150.5 244.5V259.4M151.0 240.8V258.7M151.9 236.7V259.5M152.7 240.7V259.2M153.4 238.5V263.5M154.0 240.4V259.3M154.9 243.4V260.4M155.6 240.1V265.2M156.5 245.0V258.2M157.1 240.5V263.5M157.9 244.6V258.2" stroke="#efcf5a" stroke-width="0.55" stroke-opacity="0.45" fill="none"/>
<path d="M152.3 265.4h.7v.7h-.7zM138.9 269.9h.7v.7h-.7zM151.6 270.3h.7v.7h-.7zM143.9 262.6h.7v.7h-.7zM155.5 232.7h.7v.7h-.7zM147.0 260.7h.7v.7h-.7zM150.6 259.4h.7v.7h-.7zM149.1 241.2h.7v.7h-.7zM143.2 238.3h.7v.7h-.7zM144.3 243.1h.7v.7h-.7zM156.2 234.4h.7v.7h-.7zM139.0 236.5h.7v.7h-.7zM158.0 232.9h.7v.7h-.7zM142.0 260.8h.7v.7h-.7zM154.4 259.4h.7v.7h-.7zM144.6 242.4h.7v.7h-.7zM147.9 264.7h.7v.7h-.7zM145.3 237.2h.7v.7h-.7zM148.4 260.3h.7v.7h-.7zM144.3 265.9h.7v.7h-.7zM152.3 261.1h.7v.7h-.7zM139.0 242.1h.7v.7h-.7zM155.6 242.2h.7v.7h-.7zM141.8 240.4h.7v.7h-.7z" fill="#efcf5a" opacity="0.9"/>
<path d="M125.80 251.28 L126.33 249.79 L126.85 251.87 L127.38 250.26 L127.90 250.69 L128.40 255.86 L128.87 257.13 L129.34 255.99 L129.81 256.14 L130.27 255.60 L130.74 256.51 L131.21 255.82 L131.68 257.70 L132.15 257.17 L132.62 255.42 L133.08 255.20 L133.55 256.21 L134.02 256.78 L134.49 255.21 L134.96 258.22 L135.43 257.02 L135.89 255.65 L136.36 255.69 L136.83 257.30 L137.30 256.34 L137.80 252.98 L138.25 249.82 L138.70 251.04 L139.15 252.02 L139.60 251.12 L140.06 250.31 L140.51 253.60 L140.96 250.10 L141.41 250.44 L141.86 253.09 L142.31 250.40 L142.76 252.79 L143.21 250.03 L143.66 250.73 L144.12 248.97 L144.57 251.66 L145.02 251.07 L145.47 250.08 L145.92 251.67 L146.37 251.72 L146.82 251.40 L147.27 251.11 L147.72 252.05 L148.18 250.57 L148.63 250.51 L149.08 250.94 L149.53 249.40 L149.98 251.30 L150.43 249.76 L150.88 251.49 L151.33 250.26 L151.78 252.79 L152.24 250.77 L152.69 251.11 L153.14 251.41 L153.59 251.51 L154.04 251.25 L154.49 251.60 L154.94 252.98 L155.39 251.47 L155.84 251.41 L156.30 251.38 L156.75 251.88 L157.20 251.00 L157.65 250.13 L158.10 250.86" fill="none" stroke="#2c3796" stroke-width="1.9" stroke-linejoin="round" opacity="0.9"/>
<rect x="125.60" y="284.19" width="32.70" height="53.42" fill="#ebebf2"/>
<line x1="126.40" y1="285.49" x2="158.30" y2="285.49" stroke="#aeaeb8" stroke-width="0.75" stroke-dasharray="0.9 2.5"/>
<line x1="126.40" y1="294.06" x2="158.30" y2="294.06" stroke="#aeaeb8" stroke-width="0.75" stroke-dasharray="0.9 2.5"/>
<line x1="126.40" y1="302.63" x2="158.30" y2="302.63" stroke="#aeaeb8" stroke-width="0.75" stroke-dasharray="0.9 2.5"/>
<line x1="126.40" y1="311.20" x2="158.30" y2="311.20" stroke="#aeaeb8" stroke-width="0.75" stroke-dasharray="0.9 2.5"/>
<line x1="126.40" y1="319.77" x2="158.30" y2="319.77" stroke="#aeaeb8" stroke-width="0.75" stroke-dasharray="0.9 2.5"/>
<line x1="126.40" y1="328.34" x2="158.30" y2="328.34" stroke="#aeaeb8" stroke-width="0.75" stroke-dasharray="0.9 2.5"/>
<line x1="126.40" y1="336.91" x2="158.30" y2="336.91" stroke="#aeaeb8" stroke-width="0.75" stroke-dasharray="0.9 2.5"/>
<rect x="125.60" y="299.17" width="32.60" height="24.06" fill="url(#gyl)"/>
<path d="M125.9 303.5V319.9M126.4 299.1V326.2M127.2 298.9V318.4M127.9 300.1V319.1M128.4 302.9V319.0M129.0 300.6V318.0M129.8 302.8V320.8M130.5 299.9V319.5M131.3 302.3V322.8M132.0 303.3V321.3M132.6 303.8V318.7M133.3 299.8V318.4M133.9 304.2V319.8M134.6 302.3V321.2M135.5 304.3V319.8M136.1 297.9V325.3M136.8 301.2V321.6M137.4 303.0V318.1M138.0 302.6V324.2M138.6 302.9V319.8M139.4 301.3V323.7M140.2 299.3V324.4M141.0 303.8V318.2M141.8 300.0V320.2M142.3 295.9V318.1M143.2 304.2V321.9M144.0 302.1V321.6M144.9 302.7V321.7M145.5 300.6V322.1M146.3 303.2V318.9M147.0 300.7V320.5M147.8 302.2V320.6M148.5 300.7V319.3M149.1 301.4V322.6M149.6 302.1V321.0M150.4 302.8V323.2M151.0 295.9V325.8M151.5 300.6V322.8M152.2 303.0V323.9M152.9 301.2V322.7M153.6 304.5V319.5M154.3 300.9V321.0M155.2 302.4V320.1M155.7 300.1V320.7M156.4 301.6V325.3M157.3 300.8V322.2" stroke="#efcf5a" stroke-width="0.55" stroke-opacity="0.45" fill="none"/>
<path d="M136.8 327.3h.7v.7h-.7zM136.0 294.7h.7v.7h-.7zM129.2 300.4h.7v.7h-.7zM135.1 321.7h.7v.7h-.7zM125.7 298.4h.7v.7h-.7zM147.4 321.1h.7v.7h-.7zM132.0 322.5h.7v.7h-.7zM152.4 323.5h.7v.7h-.7zM127.6 321.7h.7v.7h-.7zM138.2 293.5h.7v.7h-.7zM156.9 322.7h.7v.7h-.7zM127.0 295.3h.7v.7h-.7zM156.9 333.0h.7v.7h-.7zM154.1 326.9h.7v.7h-.7zM128.6 299.6h.7v.7h-.7zM149.2 327.3h.7v.7h-.7zM132.4 295.5h.7v.7h-.7zM138.1 296.0h.7v.7h-.7zM136.1 295.6h.7v.7h-.7zM133.0 301.3h.7v.7h-.7zM134.8 301.1h.7v.7h-.7zM138.8 298.3h.7v.7h-.7zM126.9 325.2h.7v.7h-.7zM149.0 321.0h.7v.7h-.7zM133.9 323.6h.7v.7h-.7zM134.9 324.5h.7v.7h-.7zM127.1 320.9h.7v.7h-.7zM133.6 299.1h.7v.7h-.7zM132.5 301.1h.7v.7h-.7zM134.8 327.9h.7v.7h-.7zM146.1 327.9h.7v.7h-.7zM140.4 298.2h.7v.7h-.7zM134.1 326.6h.7v.7h-.7zM143.4 298.7h.7v.7h-.7z" fill="#efcf5a" opacity="0.9"/>
<path d="M125.80 310.88 L126.25 311.73 L126.71 310.86 L127.16 311.38 L127.62 310.71 L128.07 311.55 L128.53 312.52 L128.98 311.11 L129.44 310.46 L129.89 312.17 L130.35 311.25 L130.80 310.34 L131.26 311.49 L131.71 311.74 L132.17 309.27 L132.62 310.37 L133.08 310.18 L133.53 311.99 L133.99 309.61 L134.44 312.63 L134.90 311.58 L135.35 310.42 L135.81 309.87 L136.26 311.94 L136.72 311.69 L137.17 310.90 L137.63 312.84 L138.08 310.48 L138.54 310.55 L138.99 311.47 L139.45 310.56 L139.90 310.34 L140.36 310.76 L140.81 310.56 L141.27 309.65 L141.72 311.47 L142.18 310.88 L142.63 311.50 L143.09 310.07 L143.54 311.38 L144.00 310.57 L144.45 310.88 L144.91 310.94 L145.36 309.42 L145.82 311.07 L146.27 309.69 L146.73 310.22 L147.18 309.77 L147.64 311.12 L148.09 310.12 L148.55 310.27 L149.00 311.51 L149.46 310.70 L149.91 311.06 L150.37 310.97 L150.82 309.75 L151.28 311.59 L151.73 312.46 L152.19 312.51 L152.64 311.33 L153.10 311.50 L153.55 310.89 L154.01 310.39 L154.46 309.29 L154.92 310.61 L155.37 310.46 L155.83 311.55 L156.28 310.35 L156.74 309.64 L157.19 309.65 L157.65 312.64 L158.10 310.86" fill="none" stroke="#2c3796" stroke-width="1.9" stroke-linejoin="round" opacity="0.9"/>
<text x="175.0" y="219.5" font-size="7.6" text-anchor="middle" fill="#111" stroke="#111" stroke-width="0.1">7</text>
<rect x="162.10" y="224.19" width="25.60" height="53.42" fill="#ebebf2"/>
<line x1="162.90" y1="225.49" x2="187.70" y2="225.49" stroke="#aeaeb8" stroke-width="0.75" stroke-dasharray="0.9 2.5"/>
<line x1="162.90" y1="234.06" x2="187.70" y2="234.06" stroke="#aeaeb8" stroke-width="0.75" stroke-dasharray="0.9 2.5"/>
<line x1="162.90" y1="242.63" x2="187.70" y2="242.63" stroke="#aeaeb8" stroke-width="0.75" stroke-dasharray="0.9 2.5"/>
<line x1="162.90" y1="251.20" x2="187.70" y2="251.20" stroke="#aeaeb8" stroke-width="0.75" stroke-dasharray="0.9 2.5"/>
<line x1="162.90" y1="259.77" x2="187.70" y2="259.77" stroke="#aeaeb8" stroke-width="0.75" stroke-dasharray="0.9 2.5"/>
<line x1="162.90" y1="268.34" x2="187.70" y2="268.34" stroke="#aeaeb8" stroke-width="0.75" stroke-dasharray="0.9 2.5"/>
<line x1="162.90" y1="276.91" x2="187.70" y2="276.91" stroke="#aeaeb8" stroke-width="0.75" stroke-dasharray="0.9 2.5"/>
<rect x="162.10" y="241.88" width="13.40" height="20.36" fill="url(#gpk)"/>
<path d="M162.4 243.5V262.9M163.2 246.3V260.7M163.8 245.0V260.4M164.5 243.3V258.7M165.3 246.3V258.7M166.0 242.0V262.2M166.8 239.6V262.3M167.5 244.4V257.7M168.1 245.2V258.4M168.9 244.5V260.9M169.8 245.6V258.2M170.5 244.4V262.8M171.0 242.8V263.3M171.8 243.9V259.0M172.5 242.9V258.0M173.2 241.7V259.6M174.0 244.7V258.9M174.6 242.3V259.2M175.3 245.9V259.1" stroke="#e7b9bd" stroke-width="0.55" stroke-opacity="0.45" fill="none"/>
<path d="M168.3 235.8h.7v.7h-.7zM175.2 241.9h.7v.7h-.7zM166.1 261.3h.7v.7h-.7zM169.8 243.8h.7v.7h-.7zM166.1 260.7h.7v.7h-.7zM162.5 239.0h.7v.7h-.7zM165.5 261.6h.7v.7h-.7zM173.7 263.4h.7v.7h-.7zM163.6 240.0h.7v.7h-.7zM167.8 244.0h.7v.7h-.7zM169.6 238.8h.7v.7h-.7zM164.4 259.6h.7v.7h-.7zM171.2 241.3h.7v.7h-.7zM163.4 265.0h.7v.7h-.7z" fill="#e7b9bd" opacity="0.9"/>
<rect x="175.50" y="243.59" width="12.10" height="20.36" fill="url(#gpk)"/>
<path d="M175.8 244.3V260.0M176.3 247.7V260.1M177.1 246.1V260.7M177.7 243.1V263.7M178.4 242.7V261.7M179.3 242.4V262.5M179.9 247.8V266.3M180.7 248.0V261.5M181.5 247.6V260.9M182.2 245.1V263.0M182.9 242.6V262.7M183.4 244.8V260.6M184.3 246.0V260.3M184.8 247.6V261.9M185.6 245.2V261.8M186.1 246.1V262.1M186.6 246.7V269.1M187.1 245.6V262.5" stroke="#e7b9bd" stroke-width="0.55" stroke-opacity="0.45" fill="none"/>
<path d="M178.8 244.9h.7v.7h-.7zM181.9 244.0h.7v.7h-.7zM184.8 244.7h.7v.7h-.7zM183.2 263.1h.7v.7h-.7zM186.1 243.2h.7v.7h-.7zM183.2 262.7h.7v.7h-.7zM179.6 263.8h.7v.7h-.7zM181.3 233.6h.7v.7h-.7zM177.1 238.5h.7v.7h-.7zM187.4 261.9h.7v.7h-.7zM180.7 243.6h.7v.7h-.7zM186.0 245.9h.7v.7h-.7zM177.9 265.8h.7v.7h-.7zM183.3 262.8h.7v.7h-.7zM182.8 273.0h.7v.7h-.7zM179.6 268.1h.7v.7h-.7zM186.1 245.1h.7v.7h-.7z" fill="#e7b9bd" opacity="0.9"/>
<path d="M162.30 251.97 L162.76 251.57 L163.21 251.97 L163.67 250.29 L164.12 250.86 L164.58 249.93 L165.03 250.83 L165.49 251.76 L165.94 250.25 L166.40 251.79 L166.86 251.62 L167.31 251.35 L167.77 251.16 L168.22 250.12 L168.68 251.75 L169.13 250.88 L169.59 251.23 L170.04 252.34 L170.50 252.19 L170.96 251.40 L171.41 250.83 L171.87 250.91 L172.32 250.77 L172.78 251.16 L173.23 251.61 L173.69 250.81 L174.14 252.11 L174.60 251.20 L175.10 245.72 L175.60 250.34 L176.20 255.85 L176.67 254.93 L177.13 255.93 L177.60 255.10 L178.06 255.31 L178.53 255.13 L178.99 254.67 L179.46 255.35 L179.92 255.01 L180.39 256.18 L180.85 254.50 L181.32 255.43 L181.78 254.26 L182.25 257.20 L182.71 255.36 L183.18 254.41 L183.64 256.85 L184.11 254.96 L184.57 254.54 L185.04 254.53 L185.50 255.99 L185.97 254.42 L186.43 254.49 L186.90 254.63 L187.30 246.91 L187.60 249.49" fill="none" stroke="#2c3796" stroke-width="1.9" stroke-linejoin="round" opacity="0.9"/>
<rect x="162.10" y="284.19" width="25.60" height="53.42" fill="#ebebf2"/>
<line x1="162.90" y1="285.49" x2="187.70" y2="285.49" stroke="#aeaeb8" stroke-width="0.75" stroke-dasharray="0.9 2.5"/>
<line x1="162.90" y1="294.06" x2="187.70" y2="294.06" stroke="#aeaeb8" stroke-width="0.75" stroke-dasharray="0.9 2.5"/>
<line x1="162.90" y1="302.63" x2="187.70" y2="302.63" stroke="#aeaeb8" stroke-width="0.75" stroke-dasharray="0.9 2.5"/>
<line x1="162.90" y1="311.20" x2="187.70" y2="311.20" stroke="#aeaeb8" stroke-width="0.75" stroke-dasharray="0.9 2.5"/>
<line x1="162.90" y1="319.77" x2="187.70" y2="319.77" stroke="#aeaeb8" stroke-width="0.75" stroke-dasharray="0.9 2.5"/>
<line x1="162.90" y1="328.34" x2="187.70" y2="328.34" stroke="#aeaeb8" stroke-width="0.75" stroke-dasharray="0.9 2.5"/>
<line x1="162.90" y1="336.91" x2="187.70" y2="336.91" stroke="#aeaeb8" stroke-width="0.75" stroke-dasharray="0.9 2.5"/>
<rect x="162.10" y="298.77" width="13.40" height="23.14" fill="url(#gpk)"/>
<path d="M162.4 300.3V319.5M163.2 303.7V317.5M163.8 303.4V321.0M164.5 302.2V320.6M165.1 295.6V318.2M165.9 302.0V318.8M166.4 302.8V317.3M167.3 301.1V322.3M168.0 303.9V318.1M168.6 299.8V318.3M169.4 302.9V321.9M170.0 301.7V317.7M170.8 302.9V324.1M171.6 299.3V318.7M172.3 301.9V317.1M172.8 299.8V318.7M173.6 297.7V320.5M174.2 292.1V318.8M175.0 303.0V318.8" stroke="#e7b9bd" stroke-width="0.55" stroke-opacity="0.45" fill="none"/>
<path d="M174.0 301.7h.7v.7h-.7zM168.2 320.9h.7v.7h-.7zM164.5 327.1h.7v.7h-.7zM171.7 292.7h.7v.7h-.7zM162.5 326.5h.7v.7h-.7zM162.6 323.0h.7v.7h-.7zM163.5 301.3h.7v.7h-.7zM169.5 319.2h.7v.7h-.7zM171.3 293.0h.7v.7h-.7zM175.5 298.6h.7v.7h-.7zM164.8 298.1h.7v.7h-.7zM172.6 299.3h.7v.7h-.7z" fill="#e7b9bd" opacity="0.9"/>
<rect x="175.50" y="303.62" width="12.10" height="24.06" fill="url(#gpk)"/>
<path d="M175.8 307.9V323.0M176.6 306.4V327.5M177.3 304.7V332.1M177.8 308.8V330.2M178.5 298.1V329.5M179.1 304.4V327.1M179.7 308.0V326.2M180.5 304.4V326.3M181.1 305.5V326.0M181.7 306.6V324.4M182.5 302.6V323.4M183.2 306.2V322.8M183.8 304.6V324.5M184.5 301.7V323.6M185.1 305.5V328.9M185.8 304.2V328.1M186.7 308.2V323.2M187.3 305.3V328.8" stroke="#e7b9bd" stroke-width="0.55" stroke-opacity="0.45" fill="none"/>
<path d="M185.2 325.4h.7v.7h-.7zM180.3 301.9h.7v.7h-.7zM177.3 330.0h.7v.7h-.7zM185.6 305.0h.7v.7h-.7zM177.9 329.7h.7v.7h-.7zM180.0 306.4h.7v.7h-.7zM184.1 293.5h.7v.7h-.7zM181.1 332.2h.7v.7h-.7zM184.5 327.5h.7v.7h-.7zM180.4 302.6h.7v.7h-.7z" fill="#e7b9bd" opacity="0.9"/>
<path d="M162.30 311.46 L162.76 312.25 L163.23 309.84 L163.69 310.71 L164.15 312.29 L164.62 310.58 L165.08 309.46 L165.55 311.22 L166.01 310.83 L166.47 311.58 L166.94 311.78 L167.40 310.22 L167.86 308.38 L168.33 311.09 L168.79 311.31 L169.25 310.47 L169.72 311.48 L170.18 310.53 L170.65 310.44 L171.11 312.13 L171.57 312.18 L172.04 311.27 L172.50 311.20 L173.00 310.34 L173.50 309.49 L174.00 308.63 L174.70 301.77 L175.30 302.63 L175.90 312.91 L176.30 317.81 L176.76 318.32 L177.21 317.43 L177.67 319.83 L178.13 318.12 L178.58 319.14 L179.04 318.48 L179.50 318.28 L179.95 319.46 L180.41 318.78 L180.87 319.64 L181.32 318.33 L181.78 319.35 L182.23 319.02 L182.69 318.37 L183.15 319.17 L183.60 317.52 L184.06 319.15 L184.52 317.79 L184.97 318.31 L185.43 319.52 L185.89 318.77 L186.34 319.34 L186.80 318.57 L187.20 301.77 L187.60 307.77" fill="none" stroke="#2c3796" stroke-width="1.9" stroke-linejoin="round" opacity="0.9"/>
<text x="195.4" y="219.5" font-size="7.6" text-anchor="middle" fill="#111" stroke="#111" stroke-width="0.1">21</text>
<rect x="191.90" y="224.19" width="8.70" height="53.42" fill="#ebebf2"/>
<line x1="192.70" y1="225.49" x2="200.60" y2="225.49" stroke="#aeaeb8" stroke-width="0.75" stroke-dasharray="0.9 2.5"/>
<line x1="192.70" y1="234.06" x2="200.60" y2="234.06" stroke="#aeaeb8" stroke-width="0.75" stroke-dasharray="0.9 2.5"/>
<line x1="192.70" y1="242.63" x2="200.60" y2="242.63" stroke="#aeaeb8" stroke-width="0.75" stroke-dasharray="0.9 2.5"/>
<line x1="192.70" y1="251.20" x2="200.60" y2="251.20" stroke="#aeaeb8" stroke-width="0.75" stroke-dasharray="0.9 2.5"/>
<line x1="192.70" y1="259.77" x2="200.60" y2="259.77" stroke="#aeaeb8" stroke-width="0.75" stroke-dasharray="0.9 2.5"/>
<line x1="192.70" y1="268.34" x2="200.60" y2="268.34" stroke="#aeaeb8" stroke-width="0.75" stroke-dasharray="0.9 2.5"/>
<line x1="192.70" y1="276.91" x2="200.60" y2="276.91" stroke="#aeaeb8" stroke-width="0.75" stroke-dasharray="0.9 2.5"/>
<rect x="193.00" y="235.05" width="7.50" height="25.45" fill="url(#gyl)"/>
<path d="M193.3 239.2V256.0M193.9 233.2V256.7M194.7 233.3V264.4M195.3 237.9V255.9M196.0 239.7V255.7M196.8 239.7V260.0M197.4 238.2V259.7M198.2 238.2V261.2M199.0 240.6V255.7M199.8 237.9V260.6" stroke="#efcf5a" stroke-width="0.55" stroke-opacity="0.45" fill="none"/>
<path d="M193.8 231.1h.7v.7h-.7zM196.1 270.4h.7v.7h-.7zM198.1 227.3h.7v.7h-.7zM194.2 234.1h.7v.7h-.7zM193.7 236.1h.7v.7h-.7zM198.1 257.7h.7v.7h-.7zM200.5 237.1h.7v.7h-.7zM200.0 258.8h.7v.7h-.7zM193.7 266.5h.7v.7h-.7z" fill="#efcf5a" opacity="0.9"/>
<path d="M193.20 251.76 L193.73 250.98 L194.27 251.31 L194.80 251.20 L195.40 248.63 L196.00 246.06 L196.50 243.20 L197.00 240.34 L197.50 237.49 L198.15 233.20 L198.80 228.92 L199.40 224.63 L199.80 228.92 L200.20 225.49" fill="none" stroke="#2c3796" stroke-width="1.9" stroke-linejoin="round" opacity="0.9"/>
<rect x="191.90" y="284.19" width="8.70" height="53.42" fill="#ebebf2"/>
<line x1="192.70" y1="285.49" x2="200.60" y2="285.49" stroke="#aeaeb8" stroke-width="0.75" stroke-dasharray="0.9 2.5"/>
<line x1="192.70" y1="294.06" x2="200.60" y2="294.06" stroke="#aeaeb8" stroke-width="0.75" stroke-dasharray="0.9 2.5"/>
<line x1="192.70" y1="302.63" x2="200.60" y2="302.63" stroke="#aeaeb8" stroke-width="0.75" stroke-dasharray="0.9 2.5"/>
<line x1="192.70" y1="311.20" x2="200.60" y2="311.20" stroke="#aeaeb8" stroke-width="0.75" stroke-dasharray="0.9 2.5"/>
<line x1="192.70" y1="319.77" x2="200.60" y2="319.77" stroke="#aeaeb8" stroke-width="0.75" stroke-dasharray="0.9 2.5"/>
<line x1="192.70" y1="328.34" x2="200.60" y2="328.34" stroke="#aeaeb8" stroke-width="0.75" stroke-dasharray="0.9 2.5"/>
<line x1="192.70" y1="336.91" x2="200.60" y2="336.91" stroke="#aeaeb8" stroke-width="0.75" stroke-dasharray="0.9 2.5"/>
<rect x="193.00" y="297.06" width="7.50" height="23.14" fill="url(#gyl)"/>
<path d="M193.3 294.0V320.9M193.9 296.9V317.0M194.5 300.1V318.7M195.1 302.1V317.5M195.9 301.8V316.5M196.6 298.2V317.8M197.4 298.7V317.5M197.9 300.5V315.2M198.7 298.8V318.8M199.3 298.2V319.1M199.9 297.8V323.1" stroke="#efcf5a" stroke-width="0.55" stroke-opacity="0.45" fill="none"/>
<path d="M199.5 326.7h.7v.7h-.7zM200.1 323.8h.7v.7h-.7zM194.2 294.5h.7v.7h-.7zM194.8 321.0h.7v.7h-.7zM200.4 297.0h.7v.7h-.7zM193.3 318.3h.7v.7h-.7zM199.1 317.5h.7v.7h-.7zM199.9 317.5h.7v.7h-.7z" fill="#efcf5a" opacity="0.9"/>
<path d="M193.20 310.60 L193.70 310.83 L194.20 311.34 L194.70 312.61 L195.20 310.70 L195.65 309.42 L196.10 308.66 L196.55 307.50 L197.00 306.91 L197.50 306.06 L198.00 305.20 L198.50 304.34 L199.15 302.46 L199.80 300.57 L200.30 301.77" fill="none" stroke="#2c3796" stroke-width="1.9" stroke-linejoin="round" opacity="0.9"/>
<text x="225.0" y="219.5" font-size="7.6" text-anchor="middle" fill="#111" stroke="#111" stroke-width="0.1">4</text>
<rect x="208.70" y="224.19" width="32.60" height="53.42" fill="#ebebf2"/>
<line x1="209.50" y1="225.49" x2="241.30" y2="225.49" stroke="#aeaeb8" stroke-width="0.75" stroke-dasharray="0.9 2.5"/>
<line x1="209.50" y1="234.06" x2="241.30" y2="234.06" stroke="#aeaeb8" stroke-width="0.75" stroke-dasharray="0.9 2.5"/>
<line x1="209.50" y1="242.63" x2="241.30" y2="242.63" stroke="#aeaeb8" stroke-width="0.75" stroke-dasharray="0.9 2.5"/>
<line x1="209.50" y1="251.20" x2="241.30" y2="251.20" stroke="#aeaeb8" stroke-width="0.75" stroke-dasharray="0.9 2.5"/>
<line x1="209.50" y1="259.77" x2="241.30" y2="259.77" stroke="#aeaeb8" stroke-width="0.75" stroke-dasharray="0.9 2.5"/>
<line x1="209.50" y1="268.34" x2="241.30" y2="268.34" stroke="#aeaeb8" stroke-width="0.75" stroke-dasharray="0.9 2.5"/>
<line x1="209.50" y1="276.91" x2="241.30" y2="276.91" stroke="#aeaeb8" stroke-width="0.75" stroke-dasharray="0.9 2.5"/>
<rect x="208.70" y="240.45" width="17.30" height="19.44" fill="url(#gpk)"/>
<path d="M209.0 244.2V258.4M209.9 239.0V255.7M210.6 239.1V255.7M211.4 244.7V260.2M212.0 240.3V260.0M212.8 240.5V258.4M213.5 240.4V262.7M214.2 244.7V257.3M215.1 238.3V258.3M215.9 241.9V260.6M216.6 239.2V258.0M217.4 242.9V257.6M218.3 237.1V257.1M218.9 239.2V256.7M219.5 243.5V257.6M220.0 242.5V256.2M220.7 240.6V258.3M221.5 240.4V259.1M222.3 241.6V262.6M223.2 243.6V256.3M223.9 243.3V258.1M224.7 241.8V260.5M225.2 244.2V255.6M225.7 243.5V258.7" stroke="#e7b9bd" stroke-width="0.55" stroke-opacity="0.45" fill="none"/>
<path d="M220.1 257.6h.7v.7h-.7zM222.7 242.3h.7v.7h-.7zM209.4 242.7h.7v.7h-.7zM219.3 235.2h.7v.7h-.7zM225.0 262.7h.7v.7h-.7zM214.8 242.8h.7v.7h-.7zM217.6 262.0h.7v.7h-.7zM224.2 238.6h.7v.7h-.7zM220.2 241.2h.7v.7h-.7zM219.6 242.1h.7v.7h-.7zM215.2 260.9h.7v.7h-.7zM217.3 263.1h.7v.7h-.7zM209.7 235.3h.7v.7h-.7zM216.4 258.6h.7v.7h-.7zM221.7 241.2h.7v.7h-.7zM221.7 257.5h.7v.7h-.7zM218.7 242.6h.7v.7h-.7zM209.5 259.5h.7v.7h-.7zM219.8 242.7h.7v.7h-.7zM216.0 239.9h.7v.7h-.7zM220.4 263.7h.7v.7h-.7zM221.0 237.6h.7v.7h-.7zM215.3 232.1h.7v.7h-.7zM224.4 263.2h.7v.7h-.7zM216.8 260.2h.7v.7h-.7z" fill="#e7b9bd" opacity="0.9"/>
<rect x="226.00" y="246.62" width="7.80" height="19.44" fill="url(#gpk)"/>
<path d="M226.3 249.2V261.8M226.9 248.3V265.2M227.6 249.0V263.5M228.4 249.1V267.6M229.1 249.4V266.4M229.7 244.8V261.8M230.4 249.7V261.9M231.1 246.1V262.3M231.7 249.5V266.9M232.5 244.3V263.7M233.1 245.7V266.7" stroke="#e7b9bd" stroke-width="0.55" stroke-opacity="0.45" fill="none"/>
<path d="M230.1 267.0h.7v.7h-.7zM230.5 264.9h.7v.7h-.7zM231.9 271.7h.7v.7h-.7zM232.9 265.7h.7v.7h-.7zM230.8 267.1h.7v.7h-.7zM228.1 247.4h.7v.7h-.7zM231.3 243.5h.7v.7h-.7zM231.5 244.0h.7v.7h-.7zM226.5 265.0h.7v.7h-.7z" fill="#e7b9bd" opacity="0.9"/>
<rect x="233.80" y="240.45" width="7.40" height="19.44" fill="url(#gpk)"/>
<path d="M234.1 238.9V257.1M234.6 244.0V260.1M235.3 242.7V259.2M235.9 244.2V257.7M236.7 243.3V259.3M237.2 244.6V256.3M237.9 243.7V256.1M238.7 244.1V259.8M239.3 240.5V255.9M239.9 237.6V263.5M240.7 242.0V256.3" stroke="#e7b9bd" stroke-width="0.55" stroke-opacity="0.45" fill="none"/>
<path d="M236.3 257.8h.7v.7h-.7zM239.2 257.9h.7v.7h-.7zM239.0 238.4h.7v.7h-.7zM234.3 261.5h.7v.7h-.7zM235.3 235.9h.7v.7h-.7zM235.1 259.6h.7v.7h-.7zM239.8 238.0h.7v.7h-.7zM239.6 271.8h.7v.7h-.7zM239.7 263.4h.7v.7h-.7zM234.6 258.1h.7v.7h-.7z" fill="#e7b9bd" opacity="0.9"/>
<line x1="220.90" y1="251.20" x2="220.90" y2="260.63" stroke="#2c3796" stroke-width="0.8"/>
<path d="M208.90 250.61 L209.36 249.99 L209.81 249.48 L210.27 248.13 L210.73 249.90 L211.18 250.73 L211.64 252.37 L212.10 249.17 L212.55 250.29 L213.01 250.27 L213.47 251.09 L213.92 249.49 L214.38 251.85 L214.84 250.07 L215.29 250.06 L215.75 249.89 L216.21 248.95 L216.66 250.26 L217.12 250.08 L217.58 249.37 L218.04 251.62 L218.49 250.44 L218.95 250.11 L219.41 249.28 L219.86 250.92 L220.32 249.42 L220.78 249.81 L221.23 251.56 L221.69 251.56 L222.15 251.51 L222.60 250.04 L223.06 249.98 L223.52 249.49 L223.97 249.40 L224.43 250.69 L224.89 249.17 L225.34 249.40 L225.80 250.17 L226.30 257.27 L226.78 257.29 L227.26 258.96 L227.74 257.44 L228.22 258.77 L228.70 258.94 L229.18 258.18 L229.66 257.74 L230.14 257.95 L230.62 258.23 L231.10 258.88 L231.58 257.79 L232.06 258.68 L232.54 259.33 L233.02 257.95 L233.50 258.06 L234.00 248.98 L234.47 250.71 L234.95 251.32 L235.42 249.01 L235.89 248.69 L236.37 250.56 L236.84 250.47 L237.31 250.06 L237.79 247.48 L238.26 250.11 L238.73 249.30 L239.21 249.80 L239.68 251.91 L240.15 251.23 L240.63 251.34 L241.10 250.17" fill="none" stroke="#2c3796" stroke-width="1.9" stroke-linejoin="round" opacity="0.9"/>
<rect x="208.70" y="284.19" width="32.60" height="53.42" fill="#ebebf2"/>
<line x1="209.50" y1="285.49" x2="241.30" y2="285.49" stroke="#aeaeb8" stroke-width="0.75" stroke-dasharray="0.9 2.5"/>
<line x1="209.50" y1="294.06" x2="241.30" y2="294.06" stroke="#aeaeb8" stroke-width="0.75" stroke-dasharray="0.9 2.5"/>
<line x1="209.50" y1="302.63" x2="241.30" y2="302.63" stroke="#aeaeb8" stroke-width="0.75" stroke-dasharray="0.9 2.5"/>
<line x1="209.50" y1="311.20" x2="241.30" y2="311.20" stroke="#aeaeb8" stroke-width="0.75" stroke-dasharray="0.9 2.5"/>
<line x1="209.50" y1="319.77" x2="241.30" y2="319.77" stroke="#aeaeb8" stroke-width="0.75" stroke-dasharray="0.9 2.5"/>
<line x1="209.50" y1="328.34" x2="241.30" y2="328.34" stroke="#aeaeb8" stroke-width="0.75" stroke-dasharray="0.9 2.5"/>
<line x1="209.50" y1="336.91" x2="241.30" y2="336.91" stroke="#aeaeb8" stroke-width="0.75" stroke-dasharray="0.9 2.5"/>
<rect x="208.70" y="298.77" width="32.50" height="23.14" fill="url(#gpk)"/>
<path d="M209.0 302.3V317.2M209.9 303.6V317.8M210.4 303.4V325.7M211.0 299.7V324.6M211.8 301.3V318.2M212.3 297.5V317.5M212.9 297.9V317.8M213.4 303.1V318.9M214.1 298.6V321.0M215.0 303.7V316.9M215.8 297.2V319.2M216.5 300.1V320.3M217.4 302.8V317.4M218.1 302.9V320.5M218.6 303.9V317.6M219.4 302.3V320.7M220.0 302.4V318.9M220.6 295.8V323.5M221.3 302.9V318.1M222.1 299.5V322.8M222.7 301.7V319.2M223.5 300.8V321.0M224.4 303.9V317.2M224.9 299.4V320.6M225.6 299.7V317.3M226.3 299.6V320.4M227.2 303.2V323.6M228.0 300.7V322.0M228.6 300.8V323.6M229.2 302.2V318.5M230.1 298.3V318.9M230.7 302.8V320.2M231.3 300.5V319.1M232.2 298.8V324.1M233.0 297.5V327.4M233.8 303.5V319.7M234.5 301.1V317.1M235.3 300.9V318.4M236.2 302.7V324.8M237.0 302.1V317.1M237.8 301.8V321.8M238.5 294.2V319.1M239.0 298.4V317.8M239.7 300.3V318.3M240.6 300.2V326.1" stroke="#e7b9bd" stroke-width="0.55" stroke-opacity="0.45" fill="none"/>
<path d="M209.1 292.2h.7v.7h-.7zM214.4 335.7h.7v.7h-.7zM232.9 322.5h.7v.7h-.7zM229.6 320.9h.7v.7h-.7zM224.7 297.5h.7v.7h-.7zM232.4 319.0h.7v.7h-.7zM236.4 295.3h.7v.7h-.7zM220.5 294.3h.7v.7h-.7zM232.2 300.6h.7v.7h-.7zM216.9 298.8h.7v.7h-.7zM216.3 324.3h.7v.7h-.7zM212.5 301.2h.7v.7h-.7zM227.0 295.3h.7v.7h-.7zM236.6 326.3h.7v.7h-.7zM212.3 300.5h.7v.7h-.7zM225.4 300.8h.7v.7h-.7zM228.4 300.3h.7v.7h-.7zM229.9 300.9h.7v.7h-.7zM239.4 298.1h.7v.7h-.7zM238.0 298.9h.7v.7h-.7zM227.7 297.0h.7v.7h-.7zM239.2 320.9h.7v.7h-.7zM225.3 300.6h.7v.7h-.7zM219.2 288.7h.7v.7h-.7zM209.4 299.7h.7v.7h-.7zM208.7 296.7h.7v.7h-.7zM227.0 300.9h.7v.7h-.7zM237.6 319.3h.7v.7h-.7zM239.8 324.8h.7v.7h-.7zM218.1 293.4h.7v.7h-.7zM225.9 301.3h.7v.7h-.7zM229.9 323.0h.7v.7h-.7zM240.0 327.7h.7v.7h-.7zM215.0 294.1h.7v.7h-.7z" fill="#e7b9bd" opacity="0.9"/>
<path d="M208.90 310.94 L209.35 309.30 L209.80 310.31 L210.26 310.47 L210.71 310.20 L211.16 311.43 L211.61 311.49 L212.06 309.84 L212.51 310.04 L212.97 310.19 L213.42 311.46 L213.87 309.82 L214.32 310.38 L214.77 311.33 L215.22 309.00 L215.68 307.84 L216.13 309.83 L216.58 310.64 L217.03 312.11 L217.48 308.95 L217.93 309.68 L218.39 308.99 L218.84 307.95 L219.29 310.38 L219.74 309.72 L220.19 308.35 L220.64 310.75 L221.10 308.78 L221.55 309.79 L222.00 310.32 L222.50 309.89 L223.00 309.53 L223.50 310.37 L224.00 310.26 L224.50 310.05 L225.00 310.13 L225.50 311.36 L226.00 311.02 L226.50 313.67 L227.00 313.34 L227.50 313.53 L228.00 313.67 L228.50 313.50 L229.00 314.14 L229.50 312.64 L230.00 312.12 L230.50 311.64 L231.00 312.84 L231.50 312.48 L232.00 312.15 L232.50 310.71 L233.00 312.00 L233.50 310.29 L234.00 311.50 L234.47 311.31 L234.95 311.42 L235.42 309.70 L235.89 310.43 L236.37 310.20 L236.84 311.07 L237.31 310.33 L237.79 308.50 L238.26 311.72 L238.73 311.32 L239.21 309.33 L239.68 311.09 L240.15 310.14 L240.63 310.03 L241.10 310.17" fill="none" stroke="#2c3796" stroke-width="1.9" stroke-linejoin="round" opacity="0.9"/>
<text x="257.1" y="219.5" font-size="7.6" text-anchor="middle" fill="#111" stroke="#111" stroke-width="0.1">8</text>
<rect x="245.20" y="224.19" width="24.40" height="53.42" fill="#ebebf2"/>
<line x1="246.00" y1="225.49" x2="269.60" y2="225.49" stroke="#aeaeb8" stroke-width="0.75" stroke-dasharray="0.9 2.5"/>
<line x1="246.00" y1="234.06" x2="269.60" y2="234.06" stroke="#aeaeb8" stroke-width="0.75" stroke-dasharray="0.9 2.5"/>
<line x1="246.00" y1="242.63" x2="269.60" y2="242.63" stroke="#aeaeb8" stroke-width="0.75" stroke-dasharray="0.9 2.5"/>
<line x1="246.00" y1="251.20" x2="269.60" y2="251.20" stroke="#aeaeb8" stroke-width="0.75" stroke-dasharray="0.9 2.5"/>
<line x1="246.00" y1="259.77" x2="269.60" y2="259.77" stroke="#aeaeb8" stroke-width="0.75" stroke-dasharray="0.9 2.5"/>
<line x1="246.00" y1="268.34" x2="269.60" y2="268.34" stroke="#aeaeb8" stroke-width="0.75" stroke-dasharray="0.9 2.5"/>
<line x1="246.00" y1="276.91" x2="269.60" y2="276.91" stroke="#aeaeb8" stroke-width="0.75" stroke-dasharray="0.9 2.5"/>
<rect x="245.20" y="240.23" width="24.30" height="18.51" fill="url(#ggr)"/>
<path d="M245.5 239.5V255.7M246.1 244.1V254.8M246.7 244.3V254.9M247.3 243.9V259.5M248.2 242.8V254.8M249.0 242.6V255.0M249.7 241.7V255.0M250.3 242.0V254.9M250.9 242.8V255.6M251.4 241.0V258.0M252.0 243.1V259.4M252.6 242.4V254.7M253.5 243.4V255.0M254.1 243.3V257.5M254.9 243.6V260.1M255.7 240.9V256.9M256.3 242.9V260.0M257.1 244.2V256.0M257.8 242.8V255.3M258.4 243.1V255.4M259.2 244.2V257.0M259.8 239.5V255.7M260.4 244.0V256.8M261.0 241.3V258.3M261.7 242.6V255.8M262.3 243.1V256.7M262.9 243.6V259.9M263.7 242.7V262.2M264.6 243.4V257.1M265.3 240.4V256.1M265.9 240.8V255.8M266.4 238.6V257.3M267.1 243.8V256.1M267.8 241.4V255.0M268.6 239.1V255.6M269.2 241.6V255.9" stroke="#b7d06c" stroke-width="0.55" stroke-opacity="0.45" fill="none"/>
<path d="M254.2 260.9h.7v.7h-.7zM256.1 235.1h.7v.7h-.7zM260.2 256.5h.7v.7h-.7zM247.8 258.9h.7v.7h-.7zM246.1 234.6h.7v.7h-.7zM247.3 256.8h.7v.7h-.7zM254.8 234.8h.7v.7h-.7zM246.4 239.7h.7v.7h-.7zM265.4 242.2h.7v.7h-.7zM255.5 239.1h.7v.7h-.7zM266.9 238.2h.7v.7h-.7zM267.2 266.4h.7v.7h-.7zM252.2 260.1h.7v.7h-.7zM247.8 233.3h.7v.7h-.7zM253.5 239.5h.7v.7h-.7zM249.8 260.6h.7v.7h-.7zM259.2 237.9h.7v.7h-.7zM267.3 257.7h.7v.7h-.7zM264.7 234.1h.7v.7h-.7zM265.0 260.9h.7v.7h-.7zM253.6 242.1h.7v.7h-.7zM266.6 260.5h.7v.7h-.7zM248.6 239.0h.7v.7h-.7zM261.1 236.3h.7v.7h-.7zM264.2 239.3h.7v.7h-.7zM266.9 240.5h.7v.7h-.7zM256.6 240.5h.7v.7h-.7zM265.3 257.3h.7v.7h-.7zM254.0 239.3h.7v.7h-.7zM267.4 240.5h.7v.7h-.7z" fill="#b7d06c" opacity="0.9"/>
<line x1="252.00" y1="231.15" x2="252.00" y2="251.20" stroke="#aeb2dc" stroke-width="1.3"/>
<line x1="252.00" y1="249.49" x2="252.00" y2="262.17" stroke="#2c3796" stroke-width="1.0"/>
<path d="M245.40 249.58 L245.91 250.95 L246.43 248.75 L246.94 249.52 L247.46 248.76 L247.97 251.13 L248.49 249.61 L249.00 249.49 L249.50 248.91 L250.00 248.34 L250.50 246.30 L250.96 245.89 L251.42 246.50 L251.88 247.67 L252.34 247.47 L252.80 248.18 L253.27 246.56 L253.73 248.18 L254.19 247.39 L254.65 249.37 L255.11 248.82 L255.57 245.77 L256.03 247.32 L256.49 247.14 L256.95 249.32 L257.41 247.30 L257.88 245.33 L258.34 248.58 L258.80 249.35 L259.26 247.29 L259.72 247.59 L260.18 247.26 L260.64 248.19 L261.10 248.25 L261.56 248.11 L262.02 246.35 L262.49 246.95 L262.95 246.11 L263.41 247.83 L263.87 246.26 L264.33 247.18 L264.79 246.65 L265.25 245.84 L265.71 246.64 L266.17 246.96 L266.63 248.13 L267.10 246.51 L267.56 245.81 L268.02 247.08 L268.48 246.53 L268.94 248.06 L269.40 246.40" fill="none" stroke="#2c3796" stroke-width="1.9" stroke-linejoin="round" opacity="0.9"/>
<rect x="245.20" y="284.19" width="24.40" height="53.42" fill="#ebebf2"/>
<line x1="246.00" y1="285.49" x2="269.60" y2="285.49" stroke="#aeaeb8" stroke-width="0.75" stroke-dasharray="0.9 2.5"/>
<line x1="246.00" y1="294.06" x2="269.60" y2="294.06" stroke="#aeaeb8" stroke-width="0.75" stroke-dasharray="0.9 2.5"/>
<line x1="246.00" y1="302.63" x2="269.60" y2="302.63" stroke="#aeaeb8" stroke-width="0.75" stroke-dasharray="0.9 2.5"/>
<line x1="246.00" y1="311.20" x2="269.60" y2="311.20" stroke="#aeaeb8" stroke-width="0.75" stroke-dasharray="0.9 2.5"/>
<line x1="246.00" y1="319.77" x2="269.60" y2="319.77" stroke="#aeaeb8" stroke-width="0.75" stroke-dasharray="0.9 2.5"/>
<line x1="246.00" y1="328.34" x2="269.60" y2="328.34" stroke="#aeaeb8" stroke-width="0.75" stroke-dasharray="0.9 2.5"/>
<line x1="246.00" y1="336.91" x2="269.60" y2="336.91" stroke="#aeaeb8" stroke-width="0.75" stroke-dasharray="0.9 2.5"/>
<rect x="245.20" y="297.93" width="24.30" height="20.36" fill="url(#ggr)"/>
<path d="M245.5 298.0V315.1M246.3 298.2V313.8M247.1 297.1V314.7M247.9 296.0V321.5M248.6 299.8V314.9M249.4 301.8V314.6M250.1 300.8V321.4M250.8 293.4V314.0M251.3 299.9V315.6M252.1 299.5V314.4M252.7 300.6V315.7M253.3 301.3V315.9M254.0 302.4V322.2M254.7 299.1V317.4M255.3 301.2V315.4M255.8 301.4V318.5M256.7 300.1V316.4M257.4 300.6V316.9M258.0 298.3V317.7M258.8 296.9V320.4M259.6 302.2V316.7M260.4 298.7V316.7M261.1 300.4V318.5M261.8 300.8V315.6M262.5 301.9V317.3M263.2 297.6V315.1M264.1 299.7V317.1M264.7 301.4V319.2M265.5 297.7V316.7M266.2 302.0V317.0M267.0 302.4V316.2M267.9 299.1V316.2M268.6 299.5V317.3" stroke="#b7d06c" stroke-width="0.55" stroke-opacity="0.45" fill="none"/>
<path d="M262.7 295.9h.7v.7h-.7zM267.3 299.1h.7v.7h-.7zM268.9 318.3h.7v.7h-.7zM249.6 316.8h.7v.7h-.7zM254.0 300.1h.7v.7h-.7zM269.4 287.8h.7v.7h-.7zM261.7 300.2h.7v.7h-.7zM259.2 323.0h.7v.7h-.7zM253.4 322.5h.7v.7h-.7zM266.1 297.1h.7v.7h-.7zM262.9 316.7h.7v.7h-.7zM255.1 289.9h.7v.7h-.7zM265.2 320.9h.7v.7h-.7zM247.2 291.3h.7v.7h-.7zM259.1 299.7h.7v.7h-.7zM267.9 297.0h.7v.7h-.7zM251.9 296.6h.7v.7h-.7zM255.9 298.1h.7v.7h-.7zM261.0 295.9h.7v.7h-.7zM247.6 320.2h.7v.7h-.7zM268.1 300.2h.7v.7h-.7zM266.2 316.4h.7v.7h-.7zM255.0 300.0h.7v.7h-.7zM246.5 299.1h.7v.7h-.7zM269.2 320.1h.7v.7h-.7zM266.9 299.9h.7v.7h-.7zM249.7 299.1h.7v.7h-.7zM248.1 297.6h.7v.7h-.7zM267.8 321.2h.7v.7h-.7z" fill="#b7d06c" opacity="0.9"/>
<line x1="252.00" y1="306.06" x2="252.00" y2="315.49" stroke="#2c3796" stroke-width="1.0"/>
<path d="M245.40 305.49 L245.85 306.39 L246.31 304.94 L246.76 306.72 L247.21 304.39 L247.66 306.25 L248.12 306.73 L248.57 306.77 L249.02 305.28 L249.48 306.69 L249.93 304.16 L250.38 304.64 L250.83 305.34 L251.29 307.15 L251.74 305.81 L252.19 306.45 L252.65 307.46 L253.10 305.33 L253.55 303.63 L254.00 306.19 L254.46 304.91 L254.91 304.44 L255.36 306.54 L255.82 305.93 L256.27 305.34 L256.72 305.13 L257.17 306.63 L257.63 305.33 L258.08 305.62 L258.53 304.60 L258.98 306.98 L259.44 305.99 L259.89 305.91 L260.34 305.72 L260.80 304.72 L261.25 305.97 L261.70 302.78 L262.15 306.01 L262.61 304.53 L263.06 304.34 L263.51 304.37 L263.97 305.45 L264.42 306.03 L264.87 305.46 L265.32 304.58 L265.78 305.07 L266.23 304.62 L266.68 304.60 L267.14 305.96 L267.59 305.99 L268.04 303.73 L268.49 305.53 L268.95 306.54 L269.40 305.03" fill="none" stroke="#2c3796" stroke-width="1.9" stroke-linejoin="round" opacity="0.9"/>
<text x="284.6" y="219.5" font-size="7.6" text-anchor="middle" fill="#111" stroke="#111" stroke-width="0.1">11</text>
<rect x="273.10" y="224.19" width="22.70" height="53.42" fill="#ebebf2"/>
<line x1="273.90" y1="225.49" x2="295.80" y2="225.49" stroke="#aeaeb8" stroke-width="0.75" stroke-dasharray="0.9 2.5"/>
<line x1="273.90" y1="234.06" x2="295.80" y2="234.06" stroke="#aeaeb8" stroke-width="0.75" stroke-dasharray="0.9 2.5"/>
<line x1="273.90" y1="242.63" x2="295.80" y2="242.63" stroke="#aeaeb8" stroke-width="0.75" stroke-dasharray="0.9 2.5"/>
<line x1="273.90" y1="251.20" x2="295.80" y2="251.20" stroke="#aeaeb8" stroke-width="0.75" stroke-dasharray="0.9 2.5"/>
<line x1="273.90" y1="259.77" x2="295.80" y2="259.77" stroke="#aeaeb8" stroke-width="0.75" stroke-dasharray="0.9 2.5"/>
<line x1="273.90" y1="268.34" x2="295.80" y2="268.34" stroke="#aeaeb8" stroke-width="0.75" stroke-dasharray="0.9 2.5"/>
<line x1="273.90" y1="276.91" x2="295.80" y2="276.91" stroke="#aeaeb8" stroke-width="0.75" stroke-dasharray="0.9 2.5"/>
<rect x="273.10" y="241.09" width="11.10" height="18.51" fill="url(#ggr)"/>
<path d="M273.4 239.5V258.1M274.2 242.3V256.9M275.0 242.6V258.0M275.6 237.5V256.6M276.1 245.0V257.5M276.8 244.5V259.8M277.6 241.2V258.3M278.5 238.7V257.6M279.0 240.8V258.6M279.8 244.2V257.0M280.3 241.5V261.2M281.1 241.8V255.7M281.7 244.8V258.0M282.2 239.9V257.7M283.1 244.2V258.2M283.9 244.9V259.4" stroke="#b7d06c" stroke-width="0.55" stroke-opacity="0.45" fill="none"/>
<path d="M284.0 241.6h.7v.7h-.7zM276.1 243.1h.7v.7h-.7zM283.7 242.7h.7v.7h-.7zM284.1 240.8h.7v.7h-.7zM277.1 258.9h.7v.7h-.7zM274.8 260.8h.7v.7h-.7zM278.7 258.2h.7v.7h-.7zM282.4 258.1h.7v.7h-.7zM276.8 241.9h.7v.7h-.7zM276.5 266.4h.7v.7h-.7zM274.8 258.4h.7v.7h-.7zM280.0 242.7h.7v.7h-.7zM278.8 261.2h.7v.7h-.7z" fill="#b7d06c" opacity="0.9"/>
<rect x="284.20" y="236.34" width="11.50" height="19.44" fill="url(#ggr)"/>
<path d="M284.5 240.5V252.0M285.1 237.4V255.7M286.0 238.1V252.8M286.7 238.5V252.0M287.5 237.4V253.2M288.0 239.9V261.0M288.9 238.0V254.6M289.6 238.4V253.1M290.3 236.1V252.4M291.2 238.1V252.9M291.7 237.3V253.1M292.5 240.5V252.8M293.4 236.6V256.4M294.2 239.2V253.6M294.7 238.8V256.0M295.4 238.1V252.5" stroke="#b7d06c" stroke-width="0.55" stroke-opacity="0.45" fill="none"/>
<path d="M286.0 253.8h.7v.7h-.7zM291.6 237.3h.7v.7h-.7zM290.0 253.6h.7v.7h-.7zM287.1 254.6h.7v.7h-.7zM289.7 258.9h.7v.7h-.7zM288.3 238.4h.7v.7h-.7zM287.7 253.7h.7v.7h-.7zM292.6 236.7h.7v.7h-.7zM291.7 233.5h.7v.7h-.7zM292.0 253.4h.7v.7h-.7zM287.3 254.4h.7v.7h-.7zM290.2 255.1h.7v.7h-.7zM293.5 262.5h.7v.7h-.7z" fill="#b7d06c" opacity="0.9"/>
<path d="M273.30 252.29 L273.76 249.23 L274.21 251.87 L274.67 251.24 L275.13 249.95 L275.58 251.30 L276.04 247.95 L276.50 250.07 L276.95 249.78 L277.41 250.69 L277.87 248.18 L278.32 249.75 L278.78 250.93 L279.23 249.06 L279.69 251.83 L280.15 250.78 L280.60 249.95 L281.06 250.09 L281.52 251.11 L281.97 248.71 L282.43 248.81 L282.89 251.07 L283.34 249.83 L283.80 250.17 L284.60 244.94 L285.06 244.72 L285.52 243.34 L285.98 244.12 L286.43 244.30 L286.89 244.07 L287.35 245.23 L287.81 242.94 L288.27 244.77 L288.73 242.79 L289.18 244.42 L289.64 244.38 L290.10 242.51 L290.56 243.70 L291.02 244.45 L291.48 244.31 L291.93 243.20 L292.39 241.97 L292.85 243.12 L293.31 244.04 L293.77 244.69 L294.23 244.23 L294.68 243.67 L295.14 243.29 L295.60 243.49" fill="none" stroke="#2c3796" stroke-width="1.9" stroke-linejoin="round" opacity="0.9"/>
<rect x="273.10" y="284.19" width="22.70" height="53.42" fill="#ebebf2"/>
<line x1="273.90" y1="285.49" x2="295.80" y2="285.49" stroke="#aeaeb8" stroke-width="0.75" stroke-dasharray="0.9 2.5"/>
<line x1="273.90" y1="294.06" x2="295.80" y2="294.06" stroke="#aeaeb8" stroke-width="0.75" stroke-dasharray="0.9 2.5"/>
<line x1="273.90" y1="302.63" x2="295.80" y2="302.63" stroke="#aeaeb8" stroke-width="0.75" stroke-dasharray="0.9 2.5"/>
<line x1="273.90" y1="311.20" x2="295.80" y2="311.20" stroke="#aeaeb8" stroke-width="0.75" stroke-dasharray="0.9 2.5"/>
<line x1="273.90" y1="319.77" x2="295.80" y2="319.77" stroke="#aeaeb8" stroke-width="0.75" stroke-dasharray="0.9 2.5"/>
<line x1="273.90" y1="328.34" x2="295.80" y2="328.34" stroke="#aeaeb8" stroke-width="0.75" stroke-dasharray="0.9 2.5"/>
<line x1="273.90" y1="336.91" x2="295.80" y2="336.91" stroke="#aeaeb8" stroke-width="0.75" stroke-dasharray="0.9 2.5"/>
<rect x="273.10" y="298.77" width="22.60" height="23.14" fill="url(#ggr)"/>
<path d="M273.4 301.4V321.7M274.1 301.9V316.9M274.7 302.4V320.5M275.4 302.4V317.9M276.3 303.5V324.4M276.9 300.7V318.7M277.4 301.9V323.5M278.0 303.2V321.1M278.9 300.4V318.0M279.5 299.2V321.5M280.3 300.3V317.9M281.1 301.5V318.6M281.9 292.6V321.2M282.5 301.3V317.4M283.0 302.5V317.7M283.6 299.7V318.7M284.2 302.5V321.2M285.1 301.7V320.8M285.8 298.6V322.3M286.4 301.3V319.3M287.0 300.2V320.0M287.7 295.6V321.6M288.3 299.7V320.5M289.0 302.3V319.8M289.9 301.8V320.2M290.7 301.4V319.8M291.3 300.9V321.6M292.0 301.6V318.3M292.8 296.9V318.7M293.4 303.8V317.7M294.0 298.3V318.2M294.8 299.6V316.9M295.4 301.3V321.7" stroke="#b7d06c" stroke-width="0.55" stroke-opacity="0.45" fill="none"/>
<path d="M276.1 322.1h.7v.7h-.7zM287.0 320.1h.7v.7h-.7zM291.9 323.4h.7v.7h-.7zM283.2 294.7h.7v.7h-.7zM273.5 319.5h.7v.7h-.7zM293.2 325.3h.7v.7h-.7zM293.6 291.4h.7v.7h-.7zM292.8 301.1h.7v.7h-.7zM279.4 296.3h.7v.7h-.7zM278.2 294.0h.7v.7h-.7zM285.6 299.7h.7v.7h-.7zM277.5 319.6h.7v.7h-.7zM291.9 296.4h.7v.7h-.7zM284.4 296.2h.7v.7h-.7zM281.1 297.4h.7v.7h-.7zM283.0 295.0h.7v.7h-.7zM291.9 321.3h.7v.7h-.7zM283.0 324.5h.7v.7h-.7zM285.3 301.3h.7v.7h-.7zM283.0 326.7h.7v.7h-.7zM289.7 297.2h.7v.7h-.7zM292.8 300.6h.7v.7h-.7z" fill="#b7d06c" opacity="0.9"/>
<path d="M273.30 309.49 L273.76 309.95 L274.21 309.56 L274.67 309.82 L275.12 309.25 L275.58 309.63 L276.03 310.19 L276.49 309.40 L276.94 311.08 L277.40 309.99 L277.85 309.84 L278.31 311.68 L278.76 309.71 L279.22 309.78 L279.67 309.38 L280.13 310.18 L280.58 309.09 L281.04 309.32 L281.49 309.64 L281.95 313.30 L282.40 310.18 L282.86 310.00 L283.31 310.21 L283.77 311.22 L284.22 309.40 L284.68 310.65 L285.13 310.40 L285.59 309.93 L286.04 309.20 L286.50 310.64 L286.95 311.22 L287.41 309.91 L287.86 310.08 L288.32 312.05 L288.77 310.87 L289.23 310.21 L289.68 311.95 L290.14 309.20 L290.59 311.46 L291.05 309.55 L291.50 311.29 L291.96 310.70 L292.41 310.95 L292.87 310.64 L293.32 312.09 L293.78 310.99 L294.23 309.54 L294.69 309.90 L295.14 308.43 L295.60 310.34" fill="none" stroke="#2c3796" stroke-width="1.9" stroke-linejoin="round" opacity="0.9"/>
<text x="307.9" y="219.5" font-size="7.6" text-anchor="middle" fill="#111" stroke="#111" stroke-width="0.1">15</text>
<rect x="299.20" y="224.19" width="17.50" height="53.42" fill="#ebebf2"/>
<line x1="300.00" y1="225.49" x2="316.70" y2="225.49" stroke="#aeaeb8" stroke-width="0.75" stroke-dasharray="0.9 2.5"/>
<line x1="300.00" y1="234.06" x2="316.70" y2="234.06" stroke="#aeaeb8" stroke-width="0.75" stroke-dasharray="0.9 2.5"/>
<line x1="300.00" y1="242.63" x2="316.70" y2="242.63" stroke="#aeaeb8" stroke-width="0.75" stroke-dasharray="0.9 2.5"/>
<line x1="300.00" y1="251.20" x2="316.70" y2="251.20" stroke="#aeaeb8" stroke-width="0.75" stroke-dasharray="0.9 2.5"/>
<line x1="300.00" y1="259.77" x2="316.70" y2="259.77" stroke="#aeaeb8" stroke-width="0.75" stroke-dasharray="0.9 2.5"/>
<line x1="300.00" y1="268.34" x2="316.70" y2="268.34" stroke="#aeaeb8" stroke-width="0.75" stroke-dasharray="0.9 2.5"/>
<line x1="300.00" y1="276.91" x2="316.70" y2="276.91" stroke="#aeaeb8" stroke-width="0.75" stroke-dasharray="0.9 2.5"/>
<rect x="303.50" y="242.46" width="13.10" height="18.51" fill="url(#gyl)"/>
<path d="M303.8 240.8V261.2M304.6 246.2V258.8M305.1 243.7V258.4M305.9 241.9V258.1M306.7 242.3V257.2M307.3 246.0V258.7M308.0 242.9V260.0M308.6 243.3V257.5M309.3 244.0V257.4M310.1 245.1V263.4M310.6 243.6V257.3M311.2 243.7V259.7M311.8 244.3V259.6M312.5 244.0V259.8M313.1 246.0V258.0M313.8 238.5V260.4M314.4 241.9V256.9M315.0 244.1V260.1M315.8 245.7V257.8" stroke="#efcf5a" stroke-width="0.55" stroke-opacity="0.45" fill="none"/>
<path d="M307.1 244.6h.7v.7h-.7zM305.5 258.9h.7v.7h-.7zM309.0 242.9h.7v.7h-.7zM303.9 266.0h.7v.7h-.7zM303.8 241.4h.7v.7h-.7zM308.8 262.9h.7v.7h-.7zM304.8 259.6h.7v.7h-.7zM312.9 260.3h.7v.7h-.7zM311.9 241.1h.7v.7h-.7zM307.1 237.3h.7v.7h-.7zM311.5 239.1h.7v.7h-.7zM306.2 241.8h.7v.7h-.7zM310.8 239.7h.7v.7h-.7zM312.8 243.4h.7v.7h-.7zM304.1 260.2h.7v.7h-.7z" fill="#efcf5a" opacity="0.9"/>
<line x1="299.20" y1="251.20" x2="303.50" y2="251.20" stroke="#6a6a78" stroke-width="0.9"/>
<path d="M303.70 257.80 L304.22 257.01 L304.74 257.32 L305.26 257.68 L305.78 257.23 L306.30 256.86 L306.80 254.03 L307.30 250.32 L307.76 249.02 L308.22 249.50 L308.68 251.40 L309.14 249.94 L309.60 250.99 L310.06 250.52 L310.52 251.43 L310.98 250.86 L311.44 252.23 L311.90 249.03 L312.36 251.31 L312.82 250.04 L313.28 251.04 L313.74 250.23 L314.20 251.47 L314.66 250.72 L315.12 249.49 L315.58 249.73 L316.04 251.95 L316.50 250.17" fill="none" stroke="#2c3796" stroke-width="1.9" stroke-linejoin="round" opacity="0.9"/>
<rect x="299.20" y="284.19" width="17.50" height="53.42" fill="#ebebf2"/>
<line x1="300.00" y1="285.49" x2="316.70" y2="285.49" stroke="#aeaeb8" stroke-width="0.75" stroke-dasharray="0.9 2.5"/>
<line x1="300.00" y1="294.06" x2="316.70" y2="294.06" stroke="#aeaeb8" stroke-width="0.75" stroke-dasharray="0.9 2.5"/>
<line x1="300.00" y1="302.63" x2="316.70" y2="302.63" stroke="#aeaeb8" stroke-width="0.75" stroke-dasharray="0.9 2.5"/>
<line x1="300.00" y1="311.20" x2="316.70" y2="311.20" stroke="#aeaeb8" stroke-width="0.75" stroke-dasharray="0.9 2.5"/>
<line x1="300.00" y1="319.77" x2="316.70" y2="319.77" stroke="#aeaeb8" stroke-width="0.75" stroke-dasharray="0.9 2.5"/>
<line x1="300.00" y1="328.34" x2="316.70" y2="328.34" stroke="#aeaeb8" stroke-width="0.75" stroke-dasharray="0.9 2.5"/>
<line x1="300.00" y1="336.91" x2="316.70" y2="336.91" stroke="#aeaeb8" stroke-width="0.75" stroke-dasharray="0.9 2.5"/>
<rect x="303.50" y="300.04" width="13.10" height="21.29" fill="url(#gyl)"/>
<path d="M303.8 301.8V321.0M304.4 302.2V320.4M305.0 303.9V318.0M305.5 304.3V319.1M306.4 301.5V322.7M307.0 304.4V320.1M307.5 301.6V318.0M308.0 302.6V319.2M308.5 302.3V317.2M309.1 303.2V316.8M309.9 301.1V318.7M310.5 302.6V325.7M311.1 297.4V317.1M311.7 304.3V317.2M312.5 302.8V321.7M313.2 304.0V318.5M313.9 304.4V320.2M314.5 303.6V321.1M315.3 301.4V320.1M316.1 303.0V320.8" stroke="#efcf5a" stroke-width="0.55" stroke-opacity="0.45" fill="none"/>
<path d="M312.8 300.4h.7v.7h-.7zM309.5 319.1h.7v.7h-.7zM315.2 298.7h.7v.7h-.7zM315.9 302.1h.7v.7h-.7zM311.8 300.9h.7v.7h-.7zM305.8 292.0h.7v.7h-.7zM309.9 319.7h.7v.7h-.7zM307.7 331.5h.7v.7h-.7zM306.2 327.2h.7v.7h-.7zM316.2 321.1h.7v.7h-.7zM314.5 319.6h.7v.7h-.7zM304.4 299.7h.7v.7h-.7zM311.3 324.7h.7v.7h-.7zM305.0 323.6h.7v.7h-.7zM316.4 320.0h.7v.7h-.7zM313.4 295.2h.7v.7h-.7zM307.1 297.8h.7v.7h-.7zM315.7 326.6h.7v.7h-.7zM316.5 302.1h.7v.7h-.7z" fill="#efcf5a" opacity="0.9"/>
<line x1="299.20" y1="311.20" x2="303.50" y2="311.20" stroke="#6a6a78" stroke-width="0.9"/>
<path d="M303.70 311.05 L304.16 313.09 L304.61 311.34 L305.07 311.27 L305.53 311.24 L305.99 311.28 L306.44 310.99 L306.90 312.49 L307.36 309.42 L307.81 310.12 L308.27 309.90 L308.73 310.31 L309.19 309.97 L309.64 310.20 L310.10 310.92 L310.56 311.22 L311.01 309.74 L311.47 308.83 L311.93 309.48 L312.39 308.18 L312.84 310.85 L313.30 309.76 L313.76 310.05 L314.21 308.30 L314.67 307.79 L315.13 309.77 L315.59 308.58 L316.04 309.41 L316.50 309.14" fill="none" stroke="#2c3796" stroke-width="1.9" stroke-linejoin="round" opacity="0.9"/>
<text x="336.7" y="219.5" font-size="7.6" text-anchor="middle" fill="#111" stroke="#111" stroke-width="0.1">11</text>
<rect x="325.80" y="224.19" width="23.00" height="53.42" fill="#ebebf2"/>
<line x1="326.60" y1="225.49" x2="348.80" y2="225.49" stroke="#aeaeb8" stroke-width="0.75" stroke-dasharray="0.9 2.5"/>
<line x1="326.60" y1="234.06" x2="348.80" y2="234.06" stroke="#aeaeb8" stroke-width="0.75" stroke-dasharray="0.9 2.5"/>
<line x1="326.60" y1="242.63" x2="348.80" y2="242.63" stroke="#aeaeb8" stroke-width="0.75" stroke-dasharray="0.9 2.5"/>
<line x1="326.60" y1="251.20" x2="348.80" y2="251.20" stroke="#aeaeb8" stroke-width="0.75" stroke-dasharray="0.9 2.5"/>
<line x1="326.60" y1="259.77" x2="348.80" y2="259.77" stroke="#aeaeb8" stroke-width="0.75" stroke-dasharray="0.9 2.5"/>
<line x1="326.60" y1="268.34" x2="348.80" y2="268.34" stroke="#aeaeb8" stroke-width="0.75" stroke-dasharray="0.9 2.5"/>
<line x1="326.60" y1="276.91" x2="348.80" y2="276.91" stroke="#aeaeb8" stroke-width="0.75" stroke-dasharray="0.9 2.5"/>
<rect x="325.80" y="238.62" width="22.90" height="20.36" fill="url(#ggr)"/>
<path d="M326.1 239.8V254.8M326.7 242.5V256.4M327.5 241.9V262.3M328.0 242.6V258.4M328.8 239.8V260.0M329.5 235.7V256.8M330.0 242.2V256.2M330.6 241.4V259.4M331.3 238.7V258.7M332.0 239.2V259.4M332.8 241.5V262.3M333.7 243.1V254.6M334.5 242.4V255.8M335.3 242.4V259.2M336.2 240.1V254.7M337.0 240.6V255.9M337.8 240.5V260.5M338.5 242.7V257.0M339.2 238.7V259.5M340.1 242.9V259.7M340.8 238.9V258.5M341.6 242.6V255.9M342.3 242.6V258.2M343.1 242.3V255.8M343.7 241.7V255.8M344.2 243.1V255.9M345.0 240.9V255.7M345.8 240.7V256.9M346.5 240.1V255.1M347.1 241.9V259.7M347.9 238.0V255.5M348.4 241.0V256.3" stroke="#b7d06c" stroke-width="0.55" stroke-opacity="0.45" fill="none"/>
<path d="M346.9 241.1h.7v.7h-.7zM342.8 239.0h.7v.7h-.7zM336.5 240.8h.7v.7h-.7zM346.7 234.5h.7v.7h-.7zM336.7 258.4h.7v.7h-.7zM347.9 237.9h.7v.7h-.7zM340.5 235.8h.7v.7h-.7zM345.8 268.6h.7v.7h-.7zM326.4 236.8h.7v.7h-.7zM335.2 257.3h.7v.7h-.7zM327.8 260.4h.7v.7h-.7zM339.0 234.8h.7v.7h-.7zM340.3 260.4h.7v.7h-.7zM339.2 269.1h.7v.7h-.7zM339.3 256.5h.7v.7h-.7zM333.0 257.0h.7v.7h-.7zM331.2 264.3h.7v.7h-.7zM343.7 257.5h.7v.7h-.7zM326.8 238.6h.7v.7h-.7zM334.5 236.6h.7v.7h-.7zM327.3 259.2h.7v.7h-.7zM331.1 240.7h.7v.7h-.7zM336.2 236.2h.7v.7h-.7zM342.2 256.7h.7v.7h-.7zM339.4 237.6h.7v.7h-.7zM340.8 256.4h.7v.7h-.7zM340.4 257.0h.7v.7h-.7zM326.1 263.1h.7v.7h-.7zM338.9 240.0h.7v.7h-.7zM334.5 268.9h.7v.7h-.7zM348.4 233.4h.7v.7h-.7zM338.3 258.7h.7v.7h-.7zM333.0 240.5h.7v.7h-.7zM343.1 258.1h.7v.7h-.7zM337.0 236.2h.7v.7h-.7z" fill="#b7d06c" opacity="0.9"/>
<line x1="334.80" y1="249.49" x2="334.80" y2="270.91" stroke="#4a52aa" stroke-width="0.8"/>
<path d="M326.00 248.36 L326.45 250.73 L326.90 250.36 L327.36 249.22 L327.81 248.72 L328.26 249.72 L328.71 249.13 L329.16 250.37 L329.62 248.24 L330.07 250.00 L330.52 249.76 L330.97 249.54 L331.42 249.95 L331.88 249.48 L332.33 250.02 L332.78 248.90 L333.23 249.08 L333.68 250.23 L334.14 249.56 L334.59 247.83 L335.04 250.97 L335.49 249.81 L335.94 247.95 L336.40 249.89 L336.85 250.63 L337.30 249.56 L337.75 247.18 L338.20 249.34 L338.66 249.53 L339.11 249.89 L339.56 248.76 L340.01 249.17 L340.46 248.54 L340.92 249.32 L341.37 249.61 L341.82 249.07 L342.27 250.18 L342.72 247.47 L343.18 249.31 L343.63 249.58 L344.08 248.84 L344.53 248.82 L344.98 248.88 L345.44 249.05 L345.89 249.08 L346.34 249.49 L346.79 248.25 L347.24 250.24 L347.70 249.22 L348.15 251.09 L348.60 249.49" fill="none" stroke="#2c3796" stroke-width="1.9" stroke-linejoin="round" opacity="0.9"/>
<rect x="325.80" y="284.19" width="23.00" height="53.42" fill="#ebebf2"/>
<line x1="326.60" y1="285.49" x2="348.80" y2="285.49" stroke="#aeaeb8" stroke-width="0.75" stroke-dasharray="0.9 2.5"/>
<line x1="326.60" y1="294.06" x2="348.80" y2="294.06" stroke="#aeaeb8" stroke-width="0.75" stroke-dasharray="0.9 2.5"/>
<line x1="326.60" y1="302.63" x2="348.80" y2="302.63" stroke="#aeaeb8" stroke-width="0.75" stroke-dasharray="0.9 2.5"/>
<line x1="326.60" y1="311.20" x2="348.80" y2="311.20" stroke="#aeaeb8" stroke-width="0.75" stroke-dasharray="0.9 2.5"/>
<line x1="326.60" y1="319.77" x2="348.80" y2="319.77" stroke="#aeaeb8" stroke-width="0.75" stroke-dasharray="0.9 2.5"/>
<line x1="326.60" y1="328.34" x2="348.80" y2="328.34" stroke="#aeaeb8" stroke-width="0.75" stroke-dasharray="0.9 2.5"/>
<line x1="326.60" y1="336.91" x2="348.80" y2="336.91" stroke="#aeaeb8" stroke-width="0.75" stroke-dasharray="0.9 2.5"/>
<rect x="325.80" y="294.27" width="22.90" height="22.21" fill="url(#ggr)"/>
<path d="M326.1 298.2V312.1M327.0 295.9V312.8M327.7 294.6V312.5M328.5 297.5V312.9M329.4 298.1V312.3M330.2 298.6V311.9M331.0 294.6V314.1M331.8 295.7V313.4M332.4 294.3V313.9M333.2 298.9V314.4M333.8 298.4V314.2M334.3 295.5V312.0M335.1 297.6V312.8M335.7 297.7V311.9M336.5 295.0V313.5M337.4 296.0V316.9M338.3 291.2V313.0M339.2 294.8V316.9M340.0 294.4V311.6M340.5 294.2V313.2M341.3 298.8V312.1M342.1 296.0V316.8M342.6 295.9V314.9M343.4 297.7V318.2M344.1 298.0V312.3M344.7 299.0V318.0M345.5 295.7V320.5M346.4 294.7V313.0M347.2 298.8V312.3M347.7 294.2V315.1M348.4 297.4V312.7" stroke="#b7d06c" stroke-width="0.55" stroke-opacity="0.45" fill="none"/>
<path d="M347.5 296.8h.7v.7h-.7zM348.6 289.2h.7v.7h-.7zM345.1 292.9h.7v.7h-.7zM342.6 293.1h.7v.7h-.7zM331.3 316.9h.7v.7h-.7zM346.2 315.2h.7v.7h-.7zM336.9 296.2h.7v.7h-.7zM342.5 314.2h.7v.7h-.7zM330.5 292.8h.7v.7h-.7zM338.5 317.1h.7v.7h-.7zM348.2 318.6h.7v.7h-.7zM342.9 313.9h.7v.7h-.7zM337.6 316.8h.7v.7h-.7zM338.7 294.9h.7v.7h-.7zM339.3 319.2h.7v.7h-.7zM333.2 296.4h.7v.7h-.7zM327.1 293.1h.7v.7h-.7zM331.3 315.1h.7v.7h-.7zM336.6 319.3h.7v.7h-.7zM345.6 290.7h.7v.7h-.7zM345.4 297.1h.7v.7h-.7zM342.6 291.8h.7v.7h-.7zM336.6 290.5h.7v.7h-.7zM339.9 317.4h.7v.7h-.7zM333.4 293.4h.7v.7h-.7zM328.3 315.1h.7v.7h-.7zM346.4 294.7h.7v.7h-.7zM332.1 294.5h.7v.7h-.7z" fill="#b7d06c" opacity="0.9"/>
<line x1="334.80" y1="302.63" x2="334.80" y2="327.48" stroke="#4a52aa" stroke-width="0.8"/>
<line x1="327.50" y1="301.77" x2="327.50" y2="294.06" stroke="#4a52aa" stroke-width="0.7"/>
<line x1="341.00" y1="302.63" x2="341.00" y2="295.77" stroke="#4a52aa" stroke-width="0.7"/>
<path d="M326.00 303.37 L326.45 300.68 L326.90 304.15 L327.36 300.01 L327.81 300.33 L328.26 302.86 L328.71 300.69 L329.16 302.46 L329.62 299.78 L330.07 302.16 L330.52 302.57 L330.97 303.41 L331.42 302.02 L331.88 300.99 L332.33 300.70 L332.78 302.99 L333.23 302.54 L333.68 303.75 L334.14 303.11 L334.59 302.16 L335.04 301.29 L335.49 300.60 L335.94 302.89 L336.40 303.96 L336.85 299.32 L337.30 301.99 L337.75 302.63 L338.20 301.79 L338.66 302.13 L339.11 300.89 L339.56 301.12 L340.01 304.03 L340.46 302.70 L340.92 300.96 L341.37 302.48 L341.82 300.79 L342.27 303.87 L342.72 299.66 L343.18 301.53 L343.63 304.75 L344.08 300.31 L344.53 303.85 L344.98 301.81 L345.44 301.88 L345.89 301.55 L346.34 301.10 L346.79 305.38 L347.24 302.82 L347.70 303.83 L348.15 303.21 L348.60 302.29" fill="none" stroke="#2c3796" stroke-width="1.9" stroke-linejoin="round" opacity="0.9"/>
<text x="9.0" y="370.2" font-size="12.8" font-weight="bold" fill="#000">D</text>
<line x1="51.70" y1="374.60" x2="51.70" y2="491.60" stroke="#222" stroke-width="1.3"/>
<line x1="51.10" y1="491.00" x2="165.70" y2="491.00" stroke="#222" stroke-width="1.3"/>
<line x1="48.60" y1="377.50" x2="51.70" y2="377.50" stroke="#222" stroke-width="1.1"/>
<text x="45.4" y="380.5" font-size="8.5" text-anchor="end" fill="#111" stroke="#111" stroke-width="0.1">2.5</text>
<line x1="48.60" y1="400.20" x2="51.70" y2="400.20" stroke="#222" stroke-width="1.1"/>
<text x="45.4" y="403.2" font-size="8.5" text-anchor="end" fill="#111" stroke="#111" stroke-width="0.1">2.0</text>
<line x1="48.60" y1="422.90" x2="51.70" y2="422.90" stroke="#222" stroke-width="1.1"/>
<text x="45.4" y="425.9" font-size="8.5" text-anchor="end" fill="#111" stroke="#111" stroke-width="0.1">1.5</text>
<line x1="48.60" y1="445.60" x2="51.70" y2="445.60" stroke="#222" stroke-width="1.1"/>
<text x="45.4" y="448.6" font-size="8.5" text-anchor="end" fill="#111" stroke="#111" stroke-width="0.1">1.0</text>
<line x1="48.60" y1="468.30" x2="51.70" y2="468.30" stroke="#222" stroke-width="1.1"/>
<text x="45.4" y="471.3" font-size="8.5" text-anchor="end" fill="#111" stroke="#111" stroke-width="0.1">0.5</text>
<line x1="48.60" y1="491.00" x2="51.70" y2="491.00" stroke="#222" stroke-width="1.1"/>
<text x="45.4" y="494.0" font-size="8.5" text-anchor="end" fill="#111" stroke="#111" stroke-width="0.1">0</text>
<line x1="68.30" y1="491.00" x2="68.30" y2="493.80" stroke="#222" stroke-width="1.1"/>
<line x1="148.00" y1="491.00" x2="148.00" y2="493.80" stroke="#222" stroke-width="1.1"/>
<text x="68.7" y="505.0" font-size="8.2" text-anchor="middle" fill="#111" stroke="#111" stroke-width="0.1">Diagnosis</text>
<text x="148.1" y="505.3" font-size="8.3" text-anchor="middle" fill="#111" stroke="#111" stroke-width="0.1">Post-treatment</text>
<text transform="translate(27.3,432.6) rotate(-90)" font-size="10.3" text-anchor="middle" textLength="107.5" lengthAdjust="spacingAndGlyphs" fill="#111" stroke="#111" stroke-width="0.3">Ringsideroblasts - relative change</text>
<line x1="68.30" y1="445.40" x2="148.00" y2="477.70" stroke="#27478a" stroke-width="1.0"/>
<line x1="68.30" y1="445.40" x2="148.00" y2="485.20" stroke="#27478a" stroke-width="1.0"/>
<line x1="68.30" y1="445.40" x2="148.00" y2="485.20" stroke="#27478a" stroke-width="1.0"/>
<line x1="68.30" y1="445.40" x2="148.00" y2="486.30" stroke="#27478a" stroke-width="1.0"/>
<line x1="68.30" y1="445.40" x2="148.00" y2="487.30" stroke="#27478a" stroke-width="1.0"/>
<line x1="68.30" y1="445.40" x2="148.00" y2="488.30" stroke="#27478a" stroke-width="1.0"/>
<line x1="68.30" y1="445.40" x2="148.00" y2="490.60" stroke="#27478a" stroke-width="1.0"/>
<line x1="68.30" y1="445.40" x2="148.00" y2="490.60" stroke="#27478a" stroke-width="1.0"/>
<line x1="68.30" y1="445.40" x2="148.00" y2="491.50" stroke="#27478a" stroke-width="1.0"/>
<line x1="68.30" y1="445.40" x2="148.00" y2="492.30" stroke="#27478a" stroke-width="1.0"/>
<line x1="68.30" y1="445.40" x2="148.00" y2="492.30" stroke="#27478a" stroke-width="1.0"/>
<line x1="68.30" y1="445.40" x2="148.00" y2="389.50" stroke="#b8183f" stroke-width="1.3"/>
<line x1="68.30" y1="445.40" x2="148.00" y2="439.20" stroke="#b8183f" stroke-width="1.3"/>
<line x1="68.30" y1="445.40" x2="148.00" y2="451.40" stroke="#b8183f" stroke-width="1.3"/>
<line x1="68.30" y1="445.40" x2="148.00" y2="456.60" stroke="#b8183f" stroke-width="1.3"/>
<line x1="68.30" y1="445.40" x2="148.00" y2="457.40" stroke="#b8183f" stroke-width="1.3"/>
<line x1="68.30" y1="445.40" x2="148.00" y2="458.30" stroke="#b8183f" stroke-width="1.3"/>
<rect x="66.70" y="443.80" width="3.2" height="3.2" fill="#111" stroke="#111" stroke-width="0.6"/>
<path d="M148.00 387.70L149.80 389.50L148.00 391.30L146.20 389.50Z" fill="#fff" stroke="#444" stroke-width="0.7"/>
<line x1="146.40" y1="439.20" x2="149.60" y2="439.20" stroke="#bbb" stroke-width="0.7"/>
<line x1="148.00" y1="437.60" x2="148.00" y2="440.80" stroke="#bbb" stroke-width="0.7"/>
<circle cx="148.00" cy="451.40" r="1.1" fill="#999" stroke="#999" stroke-width="0.4"/>
<path d="M148.00 454.80L149.71 457.68L146.29 457.68Z" fill="#fff" stroke="#ccc" stroke-width="0.6"/>
<rect x="146.30" y="455.80" width="3.4" height="3.4" fill="#fff" stroke="#333" stroke-width="0.8"/>
<rect x="146.65" y="456.95" width="3.3" height="3.3" fill="#111" stroke="#111" stroke-width="0.6"/>
<circle cx="148.00" cy="477.70" r="2.0" fill="#111" stroke="#111" stroke-width="0.5"/>
<path d="M148.50 483.60L150.40 486.80L146.60 486.80Z" fill="#111" stroke="#111" stroke-width="0.8"/>
<path d="M148.40 486.00L150.40 488.00L148.40 490.00L146.40 488.00Z" fill="#111" stroke="#111" stroke-width="0.8"/>
<path d="M148.30 484.20 L148.84 485.65 L150.39 485.72 L149.18 486.69 L149.59 488.18 L148.30 487.32 L147.01 488.18 L147.42 486.69 L146.21 485.72 L147.76 485.65Z" fill="#111"/>
<path d="M148.00 492.60L149.90 489.40L146.10 489.40Z" fill="#111" stroke="#111" stroke-width="0.8"/>
<line x1="195.80" y1="379.00" x2="209.20" y2="379.00" stroke="#4a69a6" stroke-width="1.4"/>
<text x="212.7" y="381.6" font-size="8.4" fill="#111" stroke="#111" stroke-width="0.1">Responders</text>
<line x1="195.80" y1="390.28" x2="209.20" y2="390.28" stroke="#3d5d9c" stroke-width="1.2"/>
<text x="212.7" y="392.88" font-size="8.4" fill="#111" stroke="#111" stroke-width="0.1">RS071</text>
<line x1="195.80" y1="401.56" x2="209.20" y2="401.56" stroke="#3d5d9c" stroke-width="1.2"/>
<text x="212.7" y="404.16" font-size="8.4" fill="#111" stroke="#111" stroke-width="0.1">RS093</text>
<line x1="195.80" y1="412.84" x2="209.20" y2="412.84" stroke="#3d5d9c" stroke-width="1.2"/>
<text x="212.7" y="415.44" font-size="8.4" fill="#111" stroke="#111" stroke-width="0.1">RS108</text>
<line x1="195.80" y1="424.12" x2="209.20" y2="424.12" stroke="#3d5d9c" stroke-width="1.2"/>
<text x="212.7" y="426.72" font-size="8.4" fill="#111" stroke="#111" stroke-width="0.1">RS068</text>
<line x1="195.80" y1="435.40" x2="209.20" y2="435.40" stroke="#3d5d9c" stroke-width="1.2"/>
<text x="212.7" y="438.0" font-size="8.4" fill="#111" stroke="#111" stroke-width="0.1">RS028</text>
<line x1="195.80" y1="446.68" x2="209.20" y2="446.68" stroke="#3d5d9c" stroke-width="1.2"/>
<text x="212.7" y="449.28000000000003" font-size="8.4" fill="#111" stroke="#111" stroke-width="0.1">RS061</text>
<line x1="195.80" y1="457.96" x2="209.20" y2="457.96" stroke="#3d5d9c" stroke-width="1.2"/>
<text x="212.7" y="460.56" font-size="8.4" fill="#111" stroke="#111" stroke-width="0.1">RS021</text>
<line x1="195.80" y1="469.24" x2="209.20" y2="469.24" stroke="#3d5d9c" stroke-width="1.2"/>
<text x="212.7" y="471.84000000000003" font-size="8.4" fill="#111" stroke="#111" stroke-width="0.1">RS074</text>
<line x1="195.80" y1="480.52" x2="209.20" y2="480.52" stroke="#3d5d9c" stroke-width="1.2"/>
<text x="212.7" y="483.12" font-size="8.4" fill="#111" stroke="#111" stroke-width="0.1">RS018</text>
<line x1="195.80" y1="491.80" x2="209.20" y2="491.80" stroke="#3d5d9c" stroke-width="1.2"/>
<text x="212.7" y="494.40000000000003" font-size="8.4" fill="#111" stroke="#111" stroke-width="0.1">RS012</text>
<line x1="195.80" y1="503.08" x2="209.20" y2="503.08" stroke="#3d5d9c" stroke-width="1.2"/>
<text x="212.7" y="505.68" font-size="8.4" fill="#111" stroke="#111" stroke-width="0.1">RS002</text>
<circle cx="202.50" cy="390.28" r="2.3" fill="#fff" stroke="#c4c4c4" stroke-width="0.8"/>
<circle cx="202.50" cy="390.28" r="0.6" fill="#ccc" stroke="#ccc" stroke-width="0.2"/>
<rect x="200.10" y="399.16" width="4.8" height="4.8" rx="1" fill="#fff" stroke="#555" stroke-width="1.0"/>
<circle cx="202.50" cy="401.56" r="0.6" fill="#333" stroke="#333" stroke-width="0.2"/>
<circle cx="202.50" cy="412.84" r="2.4" fill="#fff" stroke="#777" stroke-width="0.8"/>
<circle cx="202.50" cy="412.84" r="0.6" fill="#777" stroke="#777" stroke-width="0.2"/>
<line x1="199.90" y1="421.52" x2="205.10" y2="426.72" stroke="#333" stroke-width="1.0"/>
<line x1="199.90" y1="426.72" x2="205.10" y2="421.52" stroke="#333" stroke-width="1.0"/>
<path d="M202.50 431.80 L203.39 434.18 L205.92 434.29 L203.94 435.87 L204.62 438.31 L202.50 436.91 L200.38 438.31 L201.06 435.87 L199.08 434.29 L201.61 434.18Z" fill="#111"/>
<path d="M202.50 448.98L205.06 444.66L199.94 444.66Z" fill="#fff" stroke="#888" stroke-width="0.8"/>
<circle cx="202.50" cy="457.96" r="2.3" fill="none" stroke="#888" stroke-width="0.9"/>
<path d="M202.50 466.54L205.20 469.24L202.50 471.94L199.80 469.24Z" fill="#111" stroke="#111" stroke-width="0.8"/>
<path d="M202.50 482.92L205.25 478.28L199.75 478.28Z" fill="#111" stroke="#111" stroke-width="0.8"/>
<path d="M202.50 489.40L205.25 494.04L199.75 494.04Z" fill="#111" stroke="#111" stroke-width="0.8"/>
<circle cx="202.50" cy="503.08" r="2.6" fill="#111" stroke="#111" stroke-width="0.4"/>
<line x1="278.10" y1="379.00" x2="291.20" y2="379.00" stroke="#b8183f" stroke-width="1.4"/>
<text x="295.0" y="381.6" font-size="8.4" fill="#111" stroke="#111" stroke-width="0.1">Non-responders</text>
<line x1="278.10" y1="390.28" x2="291.20" y2="390.28" stroke="#b8183f" stroke-width="1.4"/>
<text x="295.0" y="392.88" font-size="8.4" fill="#111" stroke="#111" stroke-width="0.1">RS001</text>
<line x1="278.10" y1="401.56" x2="291.20" y2="401.56" stroke="#b8183f" stroke-width="1.4"/>
<text x="295.0" y="404.16" font-size="8.4" fill="#111" stroke="#111" stroke-width="0.1">RS042</text>
<line x1="278.10" y1="412.84" x2="291.20" y2="412.84" stroke="#b8183f" stroke-width="1.4"/>
<text x="295.0" y="415.44" font-size="8.4" fill="#111" stroke="#111" stroke-width="0.1">RS122</text>
<line x1="278.10" y1="424.12" x2="291.20" y2="424.12" stroke="#b8183f" stroke-width="1.4"/>
<text x="295.0" y="426.72" font-size="8.4" fill="#111" stroke="#111" stroke-width="0.1">RS045</text>
<line x1="278.10" y1="435.40" x2="291.20" y2="435.40" stroke="#b8183f" stroke-width="1.4"/>
<text x="295.0" y="438.0" font-size="8.4" fill="#111" stroke="#111" stroke-width="0.1">RS006</text>
<line x1="278.10" y1="446.68" x2="291.20" y2="446.68" stroke="#b8183f" stroke-width="1.4"/>
<text x="295.0" y="449.28000000000003" font-size="8.4" fill="#111" stroke="#111" stroke-width="0.1">RS037</text>
<line x1="282.50" y1="390.28" x2="286.90" y2="390.28" stroke="#ccc" stroke-width="0.8"/>
<line x1="284.70" y1="388.08" x2="284.70" y2="392.48" stroke="#ccc" stroke-width="0.8"/>
<circle cx="284.70" cy="401.56" r="1.9" fill="#888" stroke="#888" stroke-width="0.4"/>
<path d="M284.70 410.14L287.40 412.84L284.70 415.54L282.00 412.84Z" fill="none" stroke="#222" stroke-width="0.9"/>
<path d="M284.70 421.82L287.26 426.14L282.13 426.14Z" fill="none" stroke="#bbb" stroke-width="0.8"/>
<rect x="282.40" y="433.10" width="4.6" height="4.6" fill="none" stroke="#333" stroke-width="1.0"/>
<rect x="282.20" y="444.18" width="5.0" height="5.0" fill="#111" stroke="#111" stroke-width="0.4"/>
<rect x="0.5" y="0.5" width="519" height="516" fill="none" stroke="#000" stroke-width="1"/>
</svg>
</body></html>
